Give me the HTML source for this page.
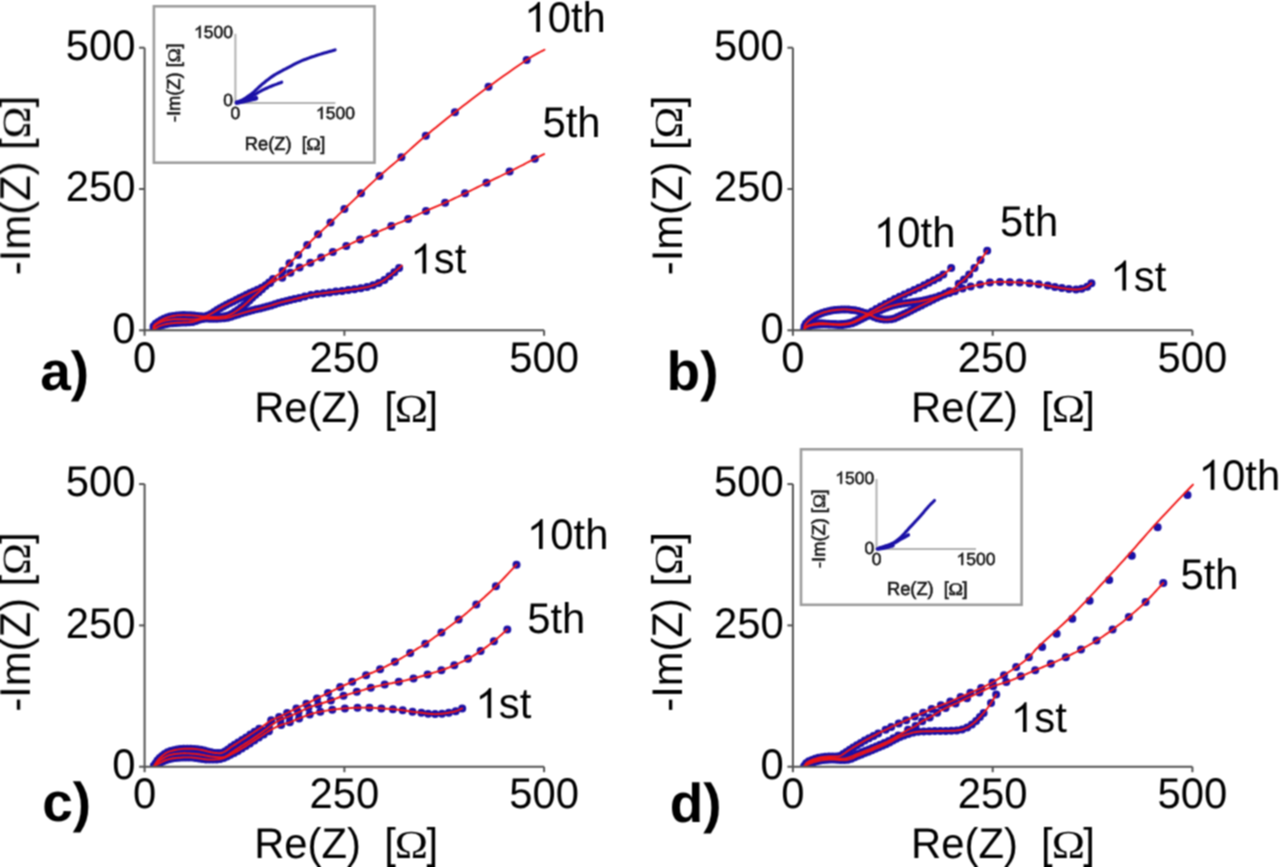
<!DOCTYPE html><html><head><meta charset="utf-8"><style>html,body{margin:0;padding:0;background:#fff;overflow:hidden}svg{display:block}text{font-family:"Liberation Sans",sans-serif;text-rendering:geometricPrecision}</style></head><body>
<svg width="1280" height="867" viewBox="0 0 1280 867">
<defs><filter id="soft" color-interpolation-filters="sRGB" filterUnits="userSpaceOnUse" x="0" y="0" width="1280" height="867"><feConvolveMatrix order="3" kernelMatrix="1 2 1 2 4 2 1 2 1" divisor="16.0" edgeMode="duplicate" preserveAlpha="false"/></filter></defs>
<rect width="1280" height="867" fill="#fff"/>
<g filter="url(#soft)">
<defs><clipPath id="cr1"><rect x="0" y="0" width="1280" height="330.3"/></clipPath><clipPath id="cr2"><rect x="0" y="440" width="1280" height="326.7"/></clipPath></defs>
<g clip-path="url(#cr1)">
<g fill="#1a10a6"><circle cx="153.5" cy="329.5" r="4.0"/><circle cx="153.6" cy="326.3" r="4.0"/><circle cx="155.7" cy="323.8" r="4.0"/><circle cx="158.3" cy="322.0" r="4.0"/><circle cx="161.1" cy="320.2" r="4.0"/><circle cx="164.0" cy="318.7" r="4.0"/><circle cx="167.1" cy="317.5" r="4.0"/><circle cx="170.2" cy="316.6" r="4.0"/><circle cx="173.5" cy="315.9" r="4.0"/><circle cx="176.8" cy="315.4" r="4.0"/><circle cx="180.2" cy="315.2" r="4.0"/><circle cx="183.6" cy="315.1" r="4.0"/><circle cx="187.0" cy="315.2" r="4.0"/><circle cx="190.5" cy="315.3" r="4.0"/><circle cx="193.9" cy="315.6" r="4.0"/><circle cx="197.4" cy="316.0" r="4.0"/><circle cx="200.9" cy="316.3" r="4.0"/><circle cx="204.4" cy="316.4" r="4.0"/><circle cx="207.8" cy="315.4" r="4.0"/><circle cx="211.0" cy="313.9" r="4.0"/><circle cx="214.1" cy="312.1" r="4.0"/><circle cx="217.1" cy="310.1" r="4.0"/><circle cx="220.1" cy="308.2" r="4.0"/><circle cx="223.3" cy="306.4" r="4.0"/><circle cx="226.5" cy="304.7" r="4.0"/><circle cx="229.8" cy="303.1" r="4.0"/><circle cx="233.1" cy="301.4" r="4.0"/><circle cx="236.5" cy="299.8" r="4.0"/><circle cx="239.8" cy="298.1" r="4.0"/><circle cx="243.2" cy="296.4" r="4.0"/><circle cx="246.5" cy="294.7" r="4.0"/><circle cx="250.0" cy="293.1" r="4.0"/><circle cx="253.6" cy="291.4" r="4.0"/><circle cx="257.5" cy="289.8" r="4.0"/><circle cx="261.6" cy="287.8" r="4.0"/><circle cx="265.7" cy="285.3" r="4.0"/><circle cx="270.1" cy="282.9" r="4.0"/><circle cx="282.2" cy="277.7" r="4.0"/><circle cx="290.4" cy="272.8" r="4.0"/><circle cx="299.6" cy="267.6" r="4.0"/><circle cx="310.3" cy="262.7" r="4.0"/><circle cx="321.2" cy="257.5" r="4.0"/><circle cx="332.8" cy="252.0" r="4.0"/><circle cx="346.3" cy="245.9" r="4.0"/><circle cx="360.1" cy="239.4" r="4.0"/><circle cx="374.8" cy="233.3" r="4.0"/><circle cx="391.3" cy="226.0" r="4.0"/><circle cx="408.2" cy="219.1" r="4.0"/><circle cx="426.0" cy="210.9" r="4.0"/><circle cx="445.1" cy="202.7" r="4.0"/><circle cx="465.0" cy="193.3" r="4.0"/><circle cx="486.5" cy="182.8" r="4.0"/><circle cx="509.6" cy="171.6" r="4.0"/><circle cx="534.8" cy="158.8" r="4.0"/><circle cx="154.0" cy="329.5" r="4.0"/><circle cx="154.5" cy="326.3" r="4.0"/><circle cx="156.8" cy="324.1" r="4.0"/><circle cx="159.6" cy="322.6" r="4.0"/><circle cx="162.7" cy="321.4" r="4.0"/><circle cx="165.8" cy="320.5" r="4.0"/><circle cx="169.1" cy="319.8" r="4.0"/><circle cx="172.4" cy="319.4" r="4.0"/><circle cx="175.7" cy="319.2" r="4.0"/><circle cx="179.1" cy="319.2" r="4.0"/><circle cx="182.5" cy="319.2" r="4.0"/><circle cx="185.9" cy="319.3" r="4.0"/><circle cx="189.4" cy="319.5" r="4.0"/><circle cx="192.8" cy="319.5" r="4.0"/><circle cx="196.3" cy="319.3" r="4.0"/><circle cx="199.7" cy="318.6" r="4.0"/><circle cx="203.1" cy="317.7" r="4.0"/><circle cx="206.6" cy="317.2" r="4.0"/><circle cx="210.1" cy="317.0" r="4.0"/><circle cx="213.7" cy="317.0" r="4.0"/><circle cx="217.3" cy="316.9" r="4.0"/><circle cx="220.9" cy="316.7" r="4.0"/><circle cx="224.6" cy="316.3" r="4.0"/><circle cx="228.1" cy="315.5" r="4.0"/><circle cx="231.5" cy="313.9" r="4.0"/><circle cx="234.7" cy="312.0" r="4.0"/><circle cx="237.8" cy="310.0" r="4.0"/><circle cx="240.8" cy="307.8" r="4.0"/><circle cx="243.8" cy="305.5" r="4.0"/><circle cx="246.6" cy="303.0" r="4.0"/><circle cx="249.4" cy="300.4" r="4.0"/><circle cx="252.2" cy="297.8" r="4.0"/><circle cx="255.3" cy="295.0" r="4.0"/><circle cx="258.6" cy="292.2" r="4.0"/><circle cx="262.0" cy="289.2" r="4.0"/><circle cx="265.5" cy="285.9" r="4.0"/><circle cx="269.1" cy="282.4" r="4.0"/><circle cx="273.0" cy="278.9" r="4.0"/><circle cx="282.6" cy="271.0" r="4.0"/><circle cx="289.5" cy="263.2" r="4.0"/><circle cx="298.2" cy="254.9" r="4.0"/><circle cx="307.2" cy="245.1" r="4.0"/><circle cx="318.1" cy="234.3" r="4.0"/><circle cx="330.5" cy="222.6" r="4.0"/><circle cx="344.4" cy="209.1" r="4.0"/><circle cx="361.0" cy="193.2" r="4.0"/><circle cx="379.5" cy="175.9" r="4.0"/><circle cx="401.4" cy="157.2" r="4.0"/><circle cx="425.8" cy="135.7" r="4.0"/><circle cx="454.9" cy="112.3" r="4.0"/><circle cx="488.5" cy="86.8" r="4.0"/><circle cx="526.7" cy="59.9" r="4.0"/><circle cx="154.0" cy="329.5" r="4.0"/><circle cx="156.6" cy="327.6" r="4.0"/><circle cx="159.5" cy="326.1" r="4.0"/><circle cx="162.6" cy="325.0" r="4.0"/><circle cx="165.8" cy="324.2" r="4.0"/><circle cx="169.0" cy="323.6" r="4.0"/><circle cx="172.3" cy="323.2" r="4.0"/><circle cx="175.6" cy="322.9" r="4.0"/><circle cx="179.0" cy="322.8" r="4.0"/><circle cx="182.4" cy="322.6" r="4.0"/><circle cx="185.8" cy="322.5" r="4.0"/><circle cx="189.2" cy="322.3" r="4.0"/><circle cx="192.6" cy="321.9" r="4.0"/><circle cx="195.9" cy="320.9" r="4.0"/><circle cx="199.2" cy="319.8" r="4.0"/><circle cx="202.6" cy="319.0" r="4.0"/><circle cx="206.1" cy="318.6" r="4.0"/><circle cx="209.7" cy="318.7" r="4.0"/><circle cx="213.2" cy="318.8" r="4.0"/><circle cx="216.8" cy="318.7" r="4.0"/><circle cx="220.4" cy="318.6" r="4.0"/><circle cx="224.0" cy="318.3" r="4.0"/><circle cx="227.6" cy="317.7" r="4.0"/><circle cx="231.1" cy="316.7" r="4.0"/><circle cx="234.6" cy="315.5" r="4.0"/><circle cx="238.1" cy="314.4" r="4.0"/><circle cx="241.7" cy="313.3" r="4.0"/><circle cx="245.3" cy="312.3" r="4.0"/><circle cx="248.9" cy="311.2" r="4.0"/><circle cx="252.5" cy="310.3" r="4.0"/><circle cx="256.2" cy="309.3" r="4.0"/><circle cx="260.0" cy="308.4" r="4.0"/><circle cx="263.7" cy="307.5" r="4.0"/><circle cx="267.4" cy="306.5" r="4.0"/><circle cx="271.2" cy="305.4" r="4.0"/><circle cx="274.9" cy="304.3" r="4.0"/><circle cx="278.6" cy="303.1" r="4.0"/><circle cx="282.4" cy="302.0" r="4.0"/><circle cx="286.3" cy="301.0" r="4.0"/><circle cx="290.2" cy="300.1" r="4.0"/><circle cx="294.5" cy="299.1" r="4.0"/><circle cx="299.3" cy="297.9" r="4.0"/><circle cx="304.7" cy="296.5" r="4.0"/><circle cx="310.9" cy="295.1" r="4.0"/><circle cx="317.1" cy="294.0" r="4.0"/><circle cx="323.3" cy="293.2" r="4.0"/><circle cx="329.6" cy="292.4" r="4.0"/><circle cx="335.8" cy="291.6" r="4.0"/><circle cx="342.1" cy="290.9" r="4.0"/><circle cx="348.3" cy="290.1" r="4.0"/><circle cx="354.5" cy="289.2" r="4.0"/><circle cx="360.8" cy="288.2" r="4.0"/><circle cx="367.0" cy="287.1" r="4.0"/><circle cx="373.0" cy="285.3" r="4.0"/><circle cx="378.8" cy="282.9" r="4.0"/><circle cx="384.4" cy="280.0" r="4.0"/><circle cx="389.4" cy="276.2" r="4.0"/><circle cx="394.3" cy="272.2" r="4.0"/><circle cx="399.1" cy="268.1" r="4.0"/><circle cx="804.5" cy="329.5" r="4.0"/><circle cx="805.7" cy="326.8" r="4.0"/><circle cx="808.7" cy="325.5" r="4.0"/><circle cx="811.8" cy="324.5" r="4.0"/><circle cx="815.0" cy="323.8" r="4.0"/><circle cx="818.2" cy="323.3" r="4.0"/><circle cx="821.5" cy="323.2" r="4.0"/><circle cx="824.8" cy="323.4" r="4.0"/><circle cx="828.2" cy="323.7" r="4.0"/><circle cx="831.5" cy="323.9" r="4.0"/><circle cx="834.9" cy="324.1" r="4.0"/><circle cx="838.3" cy="324.2" r="4.0"/><circle cx="841.7" cy="324.1" r="4.0"/><circle cx="845.1" cy="323.8" r="4.0"/><circle cx="848.5" cy="323.3" r="4.0"/><circle cx="851.8" cy="322.4" r="4.0"/><circle cx="855.0" cy="321.0" r="4.0"/><circle cx="858.1" cy="319.5" r="4.0"/><circle cx="861.2" cy="317.8" r="4.0"/><circle cx="864.6" cy="315.8" r="4.0"/><circle cx="868.1" cy="313.6" r="4.0"/><circle cx="872.0" cy="311.4" r="4.0"/><circle cx="876.2" cy="309.0" r="4.0"/><circle cx="880.7" cy="306.4" r="4.0"/><circle cx="885.3" cy="303.9" r="4.0"/><circle cx="890.0" cy="301.5" r="4.0"/><circle cx="894.7" cy="299.1" r="4.0"/><circle cx="899.5" cy="296.8" r="4.0"/><circle cx="904.3" cy="294.5" r="4.0"/><circle cx="909.2" cy="292.3" r="4.0"/><circle cx="914.1" cy="290.0" r="4.0"/><circle cx="919.0" cy="287.7" r="4.0"/><circle cx="924.0" cy="285.3" r="4.0"/><circle cx="928.8" cy="282.8" r="4.0"/><circle cx="933.7" cy="280.3" r="4.0"/><circle cx="938.6" cy="277.7" r="4.0"/><circle cx="943.3" cy="274.6" r="4.0"/><circle cx="951.2" cy="268.0" r="4.0"/><circle cx="804.5" cy="329.5" r="4.0"/><circle cx="804.6" cy="326.3" r="4.0"/><circle cx="806.0" cy="323.5" r="4.0"/><circle cx="808.3" cy="321.2" r="4.0"/><circle cx="810.7" cy="319.0" r="4.0"/><circle cx="813.4" cy="317.2" r="4.0"/><circle cx="816.2" cy="315.6" r="4.0"/><circle cx="819.1" cy="314.2" r="4.0"/><circle cx="822.2" cy="313.0" r="4.0"/><circle cx="825.3" cy="312.0" r="4.0"/><circle cx="828.5" cy="311.2" r="4.0"/><circle cx="831.7" cy="310.5" r="4.0"/><circle cx="835.0" cy="310.1" r="4.0"/><circle cx="838.3" cy="309.7" r="4.0"/><circle cx="841.6" cy="309.5" r="4.0"/><circle cx="844.9" cy="309.4" r="4.0"/><circle cx="848.3" cy="309.6" r="4.0"/><circle cx="851.6" cy="309.9" r="4.0"/><circle cx="854.9" cy="310.3" r="4.0"/><circle cx="858.3" cy="311.0" r="4.0"/><circle cx="861.5" cy="311.9" r="4.0"/><circle cx="864.7" cy="312.9" r="4.0"/><circle cx="867.9" cy="314.1" r="4.0"/><circle cx="871.1" cy="315.5" r="4.0"/><circle cx="874.1" cy="317.0" r="4.0"/><circle cx="877.3" cy="318.2" r="4.0"/><circle cx="880.7" cy="319.1" r="4.0"/><circle cx="884.1" cy="319.5" r="4.0"/><circle cx="887.5" cy="319.6" r="4.0"/><circle cx="891.0" cy="319.2" r="4.0"/><circle cx="894.4" cy="318.4" r="4.0"/><circle cx="897.6" cy="317.1" r="4.0"/><circle cx="900.8" cy="315.6" r="4.0"/><circle cx="904.1" cy="314.1" r="4.0"/><circle cx="907.4" cy="312.5" r="4.0"/><circle cx="910.8" cy="310.8" r="4.0"/><circle cx="914.2" cy="309.0" r="4.0"/><circle cx="917.7" cy="307.2" r="4.0"/><circle cx="921.4" cy="305.4" r="4.0"/><circle cx="925.1" cy="303.6" r="4.0"/><circle cx="929.0" cy="301.7" r="4.0"/><circle cx="932.9" cy="299.8" r="4.0"/><circle cx="936.9" cy="297.8" r="4.0"/><circle cx="941.0" cy="295.8" r="4.0"/><circle cx="945.2" cy="293.6" r="4.0"/><circle cx="949.5" cy="291.3" r="4.0"/><circle cx="958.7" cy="283.7" r="4.0"/><circle cx="964.0" cy="279.6" r="4.0"/><circle cx="969.2" cy="274.4" r="4.0"/><circle cx="974.5" cy="268.0" r="4.0"/><circle cx="980.5" cy="260.1" r="4.0"/><circle cx="987.2" cy="250.7" r="4.0"/><circle cx="804.5" cy="329.5" r="4.0"/><circle cx="806.6" cy="327.2" r="4.0"/><circle cx="809.6" cy="325.9" r="4.0"/><circle cx="812.7" cy="325.1" r="4.0"/><circle cx="815.9" cy="324.7" r="4.0"/><circle cx="819.2" cy="324.4" r="4.0"/><circle cx="822.4" cy="324.2" r="4.0"/><circle cx="825.7" cy="324.2" r="4.0"/><circle cx="829.0" cy="324.4" r="4.0"/><circle cx="832.3" cy="324.6" r="4.0"/><circle cx="835.6" cy="324.8" r="4.0"/><circle cx="838.9" cy="325.0" r="4.0"/><circle cx="842.2" cy="324.9" r="4.0"/><circle cx="845.5" cy="324.6" r="4.0"/><circle cx="848.8" cy="324.0" r="4.0"/><circle cx="852.1" cy="323.2" r="4.0"/><circle cx="855.2" cy="321.9" r="4.0"/><circle cx="858.3" cy="320.5" r="4.0"/><circle cx="861.3" cy="319.0" r="4.0"/><circle cx="864.3" cy="317.4" r="4.0"/><circle cx="867.4" cy="316.0" r="4.0"/><circle cx="870.5" cy="314.6" r="4.0"/><circle cx="873.6" cy="313.1" r="4.0"/><circle cx="876.8" cy="311.7" r="4.0"/><circle cx="880.0" cy="310.4" r="4.0"/><circle cx="883.1" cy="309.1" r="4.0"/><circle cx="886.4" cy="307.8" r="4.0"/><circle cx="889.6" cy="306.6" r="4.0"/><circle cx="893.0" cy="305.6" r="4.0"/><circle cx="896.4" cy="304.8" r="4.0"/><circle cx="899.8" cy="304.1" r="4.0"/><circle cx="903.3" cy="303.4" r="4.0"/><circle cx="906.7" cy="303.0" r="4.0"/><circle cx="910.3" cy="302.5" r="4.0"/><circle cx="913.8" cy="302.1" r="4.0"/><circle cx="917.3" cy="301.6" r="4.0"/><circle cx="920.8" cy="301.1" r="4.0"/><circle cx="924.3" cy="300.3" r="4.0"/><circle cx="927.8" cy="299.4" r="4.0"/><circle cx="931.4" cy="298.5" r="4.0"/><circle cx="935.3" cy="297.4" r="4.0"/><circle cx="939.5" cy="296.1" r="4.0"/><circle cx="944.2" cy="294.6" r="4.0"/><circle cx="949.3" cy="293.0" r="4.0"/><circle cx="954.9" cy="291.2" r="4.0"/><circle cx="962.5" cy="288.6" r="4.0"/><circle cx="970.7" cy="286.4" r="4.0"/><circle cx="980.1" cy="284.5" r="4.0"/><circle cx="989.9" cy="282.6" r="4.0"/><circle cx="1000.0" cy="281.9" r="4.0"/><circle cx="1009.8" cy="282.2" r="4.0"/><circle cx="1019.7" cy="282.5" r="4.0"/><circle cx="1029.5" cy="283.2" r="4.0"/><circle cx="1038.7" cy="284.2" r="4.0"/><circle cx="1047.8" cy="285.6" r="4.0"/><circle cx="1054.9" cy="287.0" r="4.0"/><circle cx="1061.9" cy="288.1" r="4.0"/><circle cx="1068.9" cy="289.1" r="4.0"/><circle cx="1076.0" cy="289.5" r="4.0"/><circle cx="1081.6" cy="288.8" r="4.0"/><circle cx="1087.2" cy="286.7" r="4.0"/><circle cx="1091.4" cy="283.2" r="4.0"/></g>
<g fill="none" stroke="#f01414" stroke-width="1.9" stroke-linejoin="round" stroke-linecap="round" stroke-opacity="1.0"><path d="M153.5,329.5 L153.5,329.2 L153.5,328.8 L153.5,328.3 L153.4,327.8 L153.5,327.2 L153.5,326.6 L153.7,326.0 L154.0,325.5 L154.4,325.0 L154.9,324.5 L155.5,324.0 L156.2,323.4 L156.9,322.9 L157.6,322.4 L158.3,322.0 L159.0,321.5 L159.7,321.1 L160.4,320.6 L161.1,320.2 L161.9,319.8 L162.6,319.4 L163.4,319.0 L164.2,318.6 L165.0,318.3 L165.8,318.0 L166.7,317.7 L167.5,317.4 L168.4,317.1 L169.3,316.9 L170.2,316.6 L171.1,316.4 L172.0,316.2 L172.9,316.0 L173.9,315.8 L174.8,315.7 L175.8,315.6 L176.8,315.4 L177.8,315.3 L178.9,315.3 L180.0,315.2 L181.2,315.2 L182.4,315.1 L183.7,315.1 L185.0,315.1 L186.3,315.2 L187.6,315.2 L188.8,315.3 L190.0,315.3 L191.1,315.4 L192.2,315.4 L193.2,315.5 L194.2,315.6 L195.2,315.7 L196.1,315.8 L197.1,315.9 L198.0,316.0 L198.9,316.1 L199.8,316.2 L200.7,316.3 L201.6,316.4 L202.4,316.4 L203.3,316.5 L204.1,316.4 L205.0,316.3 L205.9,316.1 L206.7,315.9 L207.5,315.6 L208.3,315.2 L209.1,314.8 L210.0,314.4 L211.0,313.9 L212.0,313.3 L213.1,312.7 L214.2,312.0 L215.4,311.2 L216.6,310.4 L217.8,309.6 L219.2,308.7 L220.7,307.8 L222.3,306.9 L224.1,305.9 L226.1,304.9 L228.2,303.8 L230.5,302.7 L232.7,301.7 L234.8,300.6 L236.9,299.6 L238.7,298.7 L240.3,297.9 L241.8,297.1 L243.2,296.4 L244.5,295.7 L245.8,295.1 L247.1,294.5 L248.4,293.8 L249.7,293.2 L251.1,292.6 L252.5,291.9 L253.9,291.3 L255.4,290.7 L256.8,290.1 L258.1,289.5 L259.4,288.9 L260.6,288.3 L261.7,287.7 L262.7,287.2 L263.6,286.6 L264.5,286.1 L265.4,285.5 L266.3,285.0 L267.1,284.5 L268.0,284.0 L268.9,283.5 L269.8,283.1 L270.6,282.6 L271.5,282.2 L272.4,281.7 L273.2,281.3 L274.1,280.9 L275.0,280.5 L275.9,280.1 L276.8,279.8 L277.6,279.5 L278.5,279.2 L279.4,278.9 L280.3,278.5 L281.3,278.1 L282.2,277.7 L283.2,277.2 L284.2,276.6 L285.2,276.0 L286.2,275.4 L287.2,274.8 L288.3,274.1 L289.3,273.4 L290.4,272.8 L291.5,272.2 L292.6,271.5 L293.7,270.9 L294.8,270.2 L296.0,269.5 L297.2,268.9 L298.4,268.2 L299.6,267.6 L300.9,267.0 L302.2,266.4 L303.5,265.8 L304.8,265.2 L306.2,264.5 L307.6,263.9 L308.9,263.3 L310.3,262.7 L311.6,262.1 L313.0,261.4 L314.3,260.8 L315.7,260.1 L317.1,259.5 L318.4,258.8 L319.8,258.2 L321.2,257.5 L322.6,256.8 L324.0,256.2 L325.4,255.5 L326.8,254.8 L328.3,254.1 L329.7,253.4 L331.3,252.7 L332.8,252.0 L334.4,251.3 L336.0,250.5 L337.7,249.8 L339.4,249.0 L341.1,248.2 L342.9,247.5 L344.6,246.7 L346.3,245.9 L348.0,245.1 L349.7,244.3 L351.4,243.5 L353.1,242.7 L354.8,241.8 L356.6,241.0 L358.3,240.2 L360.1,239.4 L361.9,238.6 L363.7,237.9 L365.5,237.1 L367.3,236.4 L369.1,235.7 L371.0,234.9 L372.9,234.1 L374.8,233.3 L376.8,232.4 L378.8,231.5 L380.8,230.6 L382.9,229.7 L385.0,228.8 L387.1,227.8 L389.2,226.9 L391.3,226.0 L393.4,225.1 L395.5,224.3 L397.6,223.4 L399.7,222.6 L401.8,221.8 L403.9,220.9 L406.0,220.0 L408.2,219.1 L410.4,218.1 L412.6,217.1 L414.8,216.1 L417.0,215.1 L419.2,214.0 L421.4,213.0 L423.7,211.9 L426.0,210.9 L428.3,209.9 L430.7,208.9 L433.0,207.9 L435.4,206.9 L437.8,205.9 L440.2,204.8 L442.7,203.8 L445.1,202.7 L447.5,201.6 L450.0,200.5 L452.4,199.3 L454.9,198.1 L457.4,197.0 L459.9,195.8 L462.4,194.5 L465.0,193.3 L467.6,192.0 L470.2,190.8 L472.9,189.5 L475.6,188.2 L478.2,186.8 L481.0,185.5 L483.7,184.2 L486.5,182.8 L489.3,181.4 L492.1,180.1 L495.0,178.7 L497.8,177.3 L500.7,176.0 L503.6,174.5 L506.6,173.1 L509.6,171.6 L512.8,170.0 L516.1,168.3 L519.6,166.5 L523.1,164.8 L526.4,163.0 L529.6,161.4 L532.4,160.0 L534.8,158.8 L536.8,157.7 L538.5,156.9 L539.9,156.2 L541.0,155.6 L542.0,155.1 L542.8,154.7 L543.5,154.4 L544.1,154.1"/><path d="M154.0,329.5 L154.0,329.2 L154.1,328.8 L154.1,328.3 L154.1,327.7 L154.2,327.1 L154.4,326.6 L154.6,326.0 L155.0,325.5 L155.5,325.0 L156.1,324.6 L156.8,324.1 L157.6,323.6 L158.5,323.2 L159.3,322.8 L160.2,322.4 L161.0,322.0 L161.8,321.7 L162.7,321.4 L163.5,321.1 L164.4,320.8 L165.3,320.6 L166.2,320.4 L167.1,320.2 L168.0,320.0 L168.9,319.8 L169.9,319.7 L170.9,319.6 L171.9,319.5 L172.9,319.4 L173.9,319.3 L174.9,319.2 L176.0,319.2 L177.1,319.2 L178.2,319.2 L179.3,319.2 L180.4,319.2 L181.6,319.2 L182.7,319.2 L183.9,319.3 L185.0,319.3 L186.1,319.3 L187.3,319.4 L188.5,319.4 L189.7,319.5 L190.8,319.5 L192.0,319.5 L193.0,319.5 L194.0,319.5 L194.9,319.4 L195.7,319.3 L196.5,319.2 L197.2,319.1 L198.0,318.9 L198.6,318.8 L199.3,318.6 L200.0,318.5 L200.7,318.4 L201.3,318.2 L201.9,318.0 L202.4,317.9 L203.0,317.7 L203.6,317.5 L204.3,317.4 L205.0,317.3 L205.8,317.2 L206.6,317.2 L207.4,317.1 L208.3,317.1 L209.2,317.1 L210.1,317.0 L211.1,317.0 L212.0,317.0 L213.0,317.0 L213.9,317.0 L214.9,317.0 L215.9,317.0 L217.0,317.0 L218.0,316.9 L219.0,316.9 L220.0,316.8 L221.0,316.7 L222.0,316.6 L223.0,316.5 L224.0,316.4 L225.0,316.3 L226.0,316.1 L227.0,315.8 L228.0,315.5 L229.0,315.1 L230.0,314.7 L231.0,314.2 L232.0,313.6 L233.0,313.1 L234.0,312.5 L235.0,311.8 L236.0,311.2 L237.0,310.5 L238.0,309.9 L239.1,309.1 L240.1,308.4 L241.1,307.6 L242.1,306.9 L243.2,306.0 L244.2,305.2 L245.2,304.3 L246.2,303.4 L247.3,302.4 L248.3,301.5 L249.3,300.5 L250.3,299.5 L251.4,298.5 L252.4,297.6 L253.4,296.7 L254.5,295.8 L255.5,294.9 L256.6,294.0 L257.6,293.1 L258.6,292.3 L259.6,291.4 L260.6,290.5 L261.6,289.6 L262.5,288.7 L263.4,287.9 L264.4,287.0 L265.3,286.1 L266.2,285.2 L267.1,284.4 L268.0,283.5 L268.9,282.6 L269.8,281.8 L270.7,280.9 L271.7,280.1 L272.6,279.2 L273.5,278.4 L274.4,277.6 L275.3,276.8 L276.2,276.0 L277.1,275.3 L278.1,274.6 L279.0,274.0 L279.9,273.3 L280.8,272.6 L281.7,271.8 L282.6,271.0 L283.5,270.1 L284.3,269.2 L285.1,268.2 L286.0,267.3 L286.8,266.2 L287.7,265.2 L288.6,264.2 L289.5,263.2 L290.5,262.2 L291.5,261.2 L292.6,260.2 L293.7,259.2 L294.8,258.1 L296.0,257.1 L297.1,256.0 L298.2,254.9 L299.3,253.8 L300.4,252.6 L301.5,251.4 L302.6,250.2 L303.7,248.9 L304.8,247.7 L306.0,246.4 L307.2,245.1 L308.5,243.8 L309.8,242.5 L311.1,241.2 L312.4,239.8 L313.8,238.5 L315.2,237.1 L316.7,235.7 L318.1,234.3 L319.6,232.9 L321.1,231.5 L322.6,230.1 L324.1,228.6 L325.7,227.2 L327.3,225.7 L328.9,224.2 L330.5,222.6 L332.1,221.0 L333.8,219.4 L335.5,217.8 L337.2,216.1 L338.9,214.4 L340.7,212.7 L342.5,210.9 L344.4,209.1 L346.3,207.2 L348.3,205.3 L350.3,203.4 L352.4,201.4 L354.5,199.4 L356.7,197.3 L358.8,195.3 L361.0,193.2 L363.2,191.1 L365.4,189.0 L367.6,186.9 L369.9,184.7 L372.2,182.6 L374.6,180.4 L377.0,178.1 L379.5,175.9 L382.1,173.6 L384.7,171.4 L387.4,169.1 L390.1,166.8 L392.9,164.5 L395.7,162.1 L398.5,159.7 L401.4,157.2 L404.3,154.7 L407.2,152.1 L410.2,149.4 L413.1,146.7 L416.2,144.0 L419.3,141.3 L422.5,138.5 L425.8,135.7 L429.2,132.9 L432.6,130.0 L436.2,127.2 L439.8,124.2 L443.5,121.3 L447.2,118.3 L451.0,115.3 L454.9,112.3 L458.9,109.2 L462.9,106.1 L467.0,103.0 L471.1,99.8 L475.4,96.6 L479.7,93.3 L484.0,90.1 L488.5,86.8 L493.2,83.4 L498.2,79.8 L503.4,76.1 L508.6,72.4 L513.7,68.8 L518.5,65.5 L522.9,62.5 L526.7,59.9 L530.0,57.8 L533.0,55.9 L535.7,54.4 L538.0,53.1 L540.0,52.0 L541.8,51.1 L543.3,50.4 L544.5,49.7"/><path d="M154.0,329.5 L154.3,329.3 L154.7,329.0 L155.1,328.7 L155.6,328.3 L156.2,327.9 L156.8,327.5 L157.4,327.1 L158.0,326.8 L158.6,326.5 L159.3,326.2 L160.0,325.9 L160.8,325.6 L161.5,325.3 L162.3,325.1 L163.1,324.8 L164.0,324.6 L164.9,324.4 L165.8,324.2 L166.8,324.0 L167.8,323.8 L168.8,323.6 L169.8,323.5 L170.9,323.3 L172.0,323.2 L173.2,323.1 L174.4,323.0 L175.6,322.9 L176.9,322.8 L178.2,322.8 L179.5,322.7 L180.7,322.7 L182.0,322.6 L183.3,322.5 L184.5,322.5 L185.8,322.5 L187.1,322.4 L188.4,322.4 L189.6,322.3 L190.8,322.2 L192.0,322.0 L193.1,321.8 L194.2,321.5 L195.2,321.2 L196.2,320.8 L197.2,320.5 L198.2,320.1 L199.1,319.8 L200.0,319.6 L200.8,319.4 L201.7,319.2 L202.4,319.1 L203.2,318.9 L203.9,318.8 L204.6,318.7 L205.3,318.7 L206.0,318.6 L206.7,318.6 L207.3,318.6 L207.9,318.6 L208.5,318.7 L209.2,318.7 L209.8,318.8 L210.6,318.8 L211.4,318.8 L212.3,318.8 L213.3,318.8 L214.4,318.8 L215.5,318.8 L216.7,318.8 L217.8,318.7 L218.9,318.7 L220.0,318.6 L221.0,318.5 L222.0,318.5 L222.9,318.4 L223.9,318.3 L224.9,318.2 L225.8,318.0 L226.9,317.8 L228.0,317.6 L229.2,317.3 L230.4,317.0 L231.6,316.6 L232.9,316.1 L234.2,315.7 L235.5,315.2 L236.9,314.8 L238.4,314.3 L239.9,313.8 L241.5,313.4 L243.2,312.9 L244.9,312.4 L246.7,311.9 L248.4,311.4 L250.2,310.9 L252.0,310.4 L253.8,309.9 L255.7,309.5 L257.5,309.0 L259.4,308.6 L261.3,308.1 L263.2,307.7 L265.1,307.2 L266.9,306.7 L268.7,306.2 L270.5,305.6 L272.2,305.1 L274.0,304.5 L275.7,304.0 L277.5,303.4 L279.2,302.9 L281.0,302.4 L282.8,301.9 L284.5,301.5 L286.3,301.0 L288.1,300.6 L289.9,300.2 L291.6,299.8 L293.4,299.3 L295.2,298.9 L297.0,298.5 L298.8,298.0 L300.7,297.5 L302.5,297.0 L304.3,296.6 L306.1,296.2 L307.8,295.8 L309.4,295.4 L310.9,295.1 L312.2,294.8 L313.5,294.6 L314.7,294.4 L315.9,294.2 L317.2,294.0 L318.5,293.8 L320.0,293.6 L321.6,293.4 L323.3,293.2 L325.0,292.9 L326.8,292.7 L328.6,292.5 L330.5,292.3 L332.4,292.0 L334.4,291.8 L336.4,291.5 L338.5,291.3 L340.6,291.0 L342.8,290.8 L345.0,290.5 L347.2,290.2 L349.4,289.9 L351.6,289.6 L353.8,289.3 L356.0,289.0 L358.2,288.6 L360.5,288.3 L362.7,287.9 L364.8,287.5 L366.9,287.1 L368.8,286.6 L370.6,286.1 L372.4,285.5 L374.1,284.9 L375.7,284.3 L377.3,283.6 L378.8,283.0 L380.2,282.3 L381.6,281.6 L382.9,280.9 L384.1,280.1 L385.2,279.4 L386.3,278.6 L387.3,277.8 L388.3,277.1 L389.3,276.3 L390.2,275.6 L391.1,274.9 L391.9,274.3 L392.7,273.6 L393.4,273.0 L394.2,272.4 L394.9,271.7 L395.6,271.1 L396.3,270.5 L397.1,269.9 L397.8,269.2 L398.6,268.5 L399.4,267.8 L400.2,267.1 L400.8,266.6 L401.4,266.1 L401.8,265.7"/><path d="M804.5,329.5 L804.5,329.3 L804.5,329.1 L804.5,328.8 L804.4,328.5 L804.5,328.2 L804.5,327.9 L804.7,327.6 L805.0,327.3 L805.4,327.0 L805.9,326.7 L806.5,326.4 L807.2,326.1 L807.9,325.8 L808.6,325.5 L809.3,325.2 L810.0,325.0 L810.7,324.8 L811.4,324.6 L812.2,324.4 L812.9,324.2 L813.7,324.0 L814.5,323.9 L815.2,323.7 L816.0,323.6 L816.7,323.5 L817.5,323.4 L818.2,323.3 L818.9,323.3 L819.6,323.2 L820.4,323.2 L821.2,323.2 L822.0,323.2 L822.9,323.2 L823.8,323.3 L824.8,323.4 L825.8,323.5 L826.9,323.5 L827.9,323.6 L829.0,323.7 L830.0,323.8 L831.1,323.9 L832.2,323.9 L833.3,324.0 L834.5,324.1 L835.6,324.1 L836.7,324.2 L837.8,324.2 L838.8,324.2 L839.7,324.2 L840.5,324.2 L841.3,324.1 L842.0,324.1 L842.8,324.0 L843.5,324.0 L844.2,323.9 L845.0,323.8 L845.8,323.7 L846.6,323.6 L847.3,323.5 L848.1,323.4 L848.9,323.2 L849.7,323.0 L850.5,322.8 L851.2,322.6 L852.0,322.3 L852.8,322.0 L853.6,321.7 L854.4,321.3 L855.2,321.0 L855.9,320.6 L856.7,320.2 L857.5,319.8 L858.3,319.4 L859.1,319.0 L859.8,318.6 L860.6,318.1 L861.4,317.7 L862.2,317.2 L863.0,316.8 L863.8,316.3 L864.5,315.8 L865.3,315.4 L866.1,314.9 L866.9,314.4 L867.7,313.9 L868.5,313.4 L869.2,313.0 L870.0,312.5 L870.8,312.1 L871.5,311.6 L872.3,311.2 L873.1,310.8 L873.8,310.3 L874.6,309.9 L875.3,309.6 L875.9,309.2 L876.5,308.9 L876.9,308.6 L877.3,308.4 L877.7,308.1 L878.1,307.9 L878.6,307.6 L879.2,307.2 L880.0,306.8 L881.0,306.3 L882.1,305.7 L883.3,305.0 L884.6,304.3 L885.9,303.6 L887.3,302.9 L888.7,302.2 L890.0,301.5 L891.3,300.8 L892.7,300.1 L894.1,299.4 L895.6,298.7 L897.0,298.0 L898.4,297.3 L899.8,296.6 L901.1,296.0 L902.4,295.4 L903.6,294.8 L904.8,294.3 L906.0,293.7 L907.2,293.2 L908.5,292.7 L909.7,292.1 L911.0,291.5 L912.4,290.9 L913.8,290.2 L915.2,289.5 L916.7,288.9 L918.1,288.2 L919.5,287.5 L920.9,286.8 L922.2,286.2 L923.4,285.6 L924.6,285.0 L925.7,284.5 L926.8,283.9 L927.8,283.4 L928.9,282.8 L929.9,282.3 L931.0,281.7 L932.1,281.1 L933.3,280.5 L934.4,279.9 L935.6,279.3 L936.7,278.7 L937.8,278.1 L938.9,277.5 L939.8,277.0 L940.6,276.5 L941.4,276.0 L942.0,275.6 L942.7,275.1 L943.3,274.7 L943.9,274.2 L944.5,273.7 L945.2,273.2 L946.0,272.6 L946.8,271.9 L947.7,271.1 L948.5,270.4 L949.4,269.6 L950.1,269.0 L950.7,268.4 L951.2,268.0"/><path d="M804.5,329.5 L804.5,329.2 L804.5,328.7 L804.5,328.1 L804.5,327.5 L804.5,326.9 L804.6,326.2 L804.8,325.6 L805.0,325.0 L805.3,324.4 L805.7,323.9 L806.2,323.3 L806.7,322.7 L807.3,322.1 L807.8,321.6 L808.4,321.0 L809.0,320.5 L809.6,320.0 L810.2,319.5 L810.8,319.0 L811.4,318.6 L812.0,318.1 L812.7,317.7 L813.3,317.2 L814.0,316.8 L814.7,316.4 L815.4,316.0 L816.2,315.6 L816.9,315.2 L817.7,314.8 L818.5,314.5 L819.2,314.1 L820.0,313.8 L820.7,313.5 L821.5,313.2 L822.2,313.0 L823.0,312.7 L823.7,312.5 L824.5,312.2 L825.2,312.0 L826.0,311.8 L826.8,311.6 L827.6,311.4 L828.4,311.2 L829.2,311.0 L830.1,310.8 L830.9,310.7 L831.7,310.5 L832.5,310.4 L833.3,310.3 L834.1,310.2 L834.9,310.1 L835.6,310.0 L836.4,309.9 L837.2,309.8 L838.0,309.8 L838.8,309.7 L839.5,309.6 L840.3,309.6 L841.1,309.5 L841.9,309.5 L842.7,309.4 L843.4,309.4 L844.2,309.4 L845.0,309.4 L845.8,309.4 L846.6,309.5 L847.3,309.5 L848.1,309.6 L848.9,309.6 L849.7,309.7 L850.5,309.8 L851.2,309.9 L852.0,310.0 L852.8,310.1 L853.6,310.2 L854.4,310.3 L855.2,310.4 L855.9,310.5 L856.7,310.6 L857.5,310.8 L858.3,311.0 L859.1,311.2 L859.8,311.4 L860.6,311.6 L861.4,311.8 L862.2,312.1 L863.0,312.3 L863.8,312.6 L864.5,312.9 L865.3,313.1 L866.1,313.4 L866.9,313.7 L867.7,314.0 L868.5,314.4 L869.2,314.7 L870.0,315.0 L870.8,315.3 L871.5,315.7 L872.3,316.1 L873.0,316.5 L873.8,316.8 L874.5,317.2 L875.3,317.5 L876.0,317.8 L876.8,318.1 L877.5,318.3 L878.2,318.5 L879.0,318.7 L879.8,318.9 L880.5,319.0 L881.2,319.2 L882.0,319.3 L882.8,319.4 L883.5,319.5 L884.2,319.6 L885.0,319.6 L885.8,319.6 L886.5,319.7 L887.2,319.6 L888.0,319.6 L888.8,319.5 L889.5,319.5 L890.2,319.4 L891.0,319.2 L891.8,319.1 L892.5,318.9 L893.2,318.7 L894.0,318.5 L894.7,318.3 L895.5,318.0 L896.2,317.7 L896.9,317.4 L897.6,317.1 L898.4,316.7 L899.1,316.4 L900.0,316.0 L900.9,315.6 L901.8,315.2 L902.8,314.7 L903.8,314.3 L904.8,313.8 L905.9,313.3 L907.0,312.8 L908.1,312.2 L909.2,311.6 L910.4,311.0 L911.6,310.4 L912.9,309.7 L914.1,309.0 L915.4,308.3 L916.7,307.7 L918.0,307.0 L919.3,306.3 L920.6,305.7 L922.0,305.1 L923.3,304.4 L924.7,303.8 L926.2,303.1 L927.7,302.4 L929.2,301.6 L930.9,300.8 L932.6,299.9 L934.4,299.0 L936.3,298.1 L938.2,297.2 L940.0,296.3 L941.7,295.4 L943.3,294.6 L944.8,293.8 L946.2,293.1 L947.6,292.4 L949.0,291.7 L950.2,291.0 L951.4,290.3 L952.5,289.7 L953.5,289.0 L954.4,288.3 L955.1,287.6 L955.8,286.9 L956.4,286.3 L957.0,285.6 L957.5,284.9 L958.1,284.3 L958.7,283.7 L959.4,283.1 L960.0,282.6 L960.7,282.1 L961.4,281.6 L962.0,281.2 L962.7,280.7 L963.3,280.2 L964.0,279.6 L964.7,279.0 L965.3,278.4 L966.0,277.8 L966.6,277.1 L967.2,276.5 L967.9,275.8 L968.5,275.1 L969.2,274.4 L969.9,273.7 L970.5,272.9 L971.1,272.2 L971.8,271.4 L972.5,270.6 L973.1,269.7 L973.8,268.9 L974.5,268.0 L975.2,267.1 L975.9,266.2 L976.7,265.2 L977.4,264.2 L978.2,263.2 L978.9,262.2 L979.7,261.2 L980.5,260.1 L981.3,258.9 L982.3,257.6 L983.3,256.3 L984.2,254.9 L985.1,253.6 L986.0,252.4 L986.7,251.4 L987.2,250.7"/><path d="M804.5,329.5 L804.6,329.3 L804.7,329.1 L804.8,328.9 L804.9,328.6 L805.1,328.3 L805.3,328.0 L805.6,327.8 L806.0,327.5 L806.5,327.2 L807.0,327.0 L807.6,326.7 L808.2,326.4 L808.9,326.2 L809.6,325.9 L810.3,325.7 L811.0,325.5 L811.7,325.3 L812.4,325.2 L813.1,325.1 L813.9,324.9 L814.6,324.9 L815.4,324.8 L816.2,324.7 L817.0,324.6 L817.8,324.5 L818.7,324.4 L819.5,324.4 L820.4,324.3 L821.3,324.3 L822.2,324.2 L823.1,324.2 L824.0,324.2 L825.0,324.2 L825.9,324.2 L826.9,324.3 L827.9,324.3 L829.0,324.4 L830.0,324.5 L831.0,324.5 L832.0,324.6 L833.0,324.7 L834.0,324.7 L835.1,324.8 L836.1,324.9 L837.1,324.9 L838.1,325.0 L839.1,325.0 L840.0,325.0 L840.8,325.0 L841.6,325.0 L842.4,324.9 L843.1,324.9 L843.8,324.8 L844.5,324.7 L845.3,324.6 L846.0,324.5 L846.8,324.4 L847.5,324.3 L848.2,324.1 L849.0,324.0 L849.8,323.8 L850.5,323.6 L851.2,323.4 L852.0,323.2 L852.8,322.9 L853.5,322.7 L854.2,322.3 L855.0,322.0 L855.8,321.7 L856.5,321.3 L857.2,321.0 L858.0,320.6 L858.8,320.2 L859.5,319.9 L860.2,319.5 L861.0,319.1 L861.8,318.7 L862.5,318.3 L863.2,318.0 L864.0,317.6 L864.7,317.2 L865.4,316.9 L866.1,316.6 L866.8,316.3 L867.6,315.9 L868.3,315.6 L869.1,315.2 L870.0,314.8 L870.9,314.4 L871.9,313.9 L872.9,313.5 L873.9,313.0 L875.0,312.5 L876.1,312.0 L877.3,311.5 L878.5,311.0 L879.8,310.5 L881.2,309.9 L882.6,309.3 L884.1,308.7 L885.6,308.1 L887.1,307.5 L888.6,307.0 L890.0,306.5 L891.4,306.1 L892.8,305.7 L894.2,305.3 L895.6,305.0 L897.0,304.6 L898.3,304.3 L899.7,304.1 L901.1,303.8 L902.5,303.6 L903.9,303.3 L905.2,303.1 L906.6,303.0 L908.0,302.8 L909.3,302.6 L910.7,302.5 L912.0,302.3 L913.3,302.1 L914.6,302.0 L915.9,301.8 L917.1,301.6 L918.4,301.5 L919.6,301.3 L920.9,301.0 L922.2,300.8 L923.5,300.5 L924.8,300.2 L926.1,299.9 L927.4,299.6 L928.8,299.2 L930.1,298.8 L931.4,298.5 L932.7,298.1 L934.0,297.7 L935.2,297.4 L936.5,297.0 L937.8,296.6 L939.0,296.2 L940.3,295.8 L941.6,295.4 L943.0,295.0 L944.4,294.6 L946.0,294.1 L947.6,293.6 L949.2,293.1 L950.8,292.6 L952.3,292.1 L953.7,291.6 L955.0,291.2 L956.1,290.8 L957.2,290.5 L958.1,290.1 L959.0,289.8 L959.8,289.5 L960.7,289.2 L961.6,288.9 L962.5,288.6 L963.5,288.3 L964.5,288.0 L965.5,287.7 L966.5,287.5 L967.5,287.2 L968.5,286.9 L969.6,286.7 L970.7,286.4 L971.8,286.1 L973.0,285.9 L974.1,285.7 L975.3,285.4 L976.5,285.2 L977.7,285.0 L978.9,284.7 L980.1,284.5 L981.3,284.3 L982.5,284.0 L983.7,283.7 L985.0,283.5 L986.2,283.2 L987.4,283.0 L988.7,282.8 L989.9,282.6 L991.2,282.4 L992.4,282.3 L993.7,282.2 L994.9,282.1 L996.2,282.0 L997.5,282.0 L998.7,281.9 L1000.0,281.9 L1001.2,281.9 L1002.5,281.9 L1003.7,281.9 L1004.9,282.0 L1006.1,282.0 L1007.4,282.1 L1008.6,282.2 L1009.8,282.2 L1011.0,282.2 L1012.3,282.3 L1013.5,282.3 L1014.7,282.3 L1016.0,282.4 L1017.2,282.4 L1018.5,282.4 L1019.7,282.5 L1020.9,282.6 L1022.2,282.6 L1023.4,282.7 L1024.6,282.8 L1025.9,282.9 L1027.1,283.0 L1028.3,283.1 L1029.5,283.2 L1030.7,283.3 L1031.8,283.4 L1033.0,283.5 L1034.1,283.7 L1035.3,283.8 L1036.4,283.9 L1037.6,284.1 L1038.7,284.2 L1039.9,284.4 L1041.0,284.5 L1042.2,284.7 L1043.4,284.9 L1044.5,285.1 L1045.7,285.2 L1046.8,285.4 L1047.8,285.6 L1048.8,285.8 L1049.7,286.0 L1050.6,286.1 L1051.5,286.3 L1052.3,286.5 L1053.2,286.7 L1054.0,286.8 L1054.9,287.0 L1055.8,287.2 L1056.7,287.3 L1057.5,287.4 L1058.4,287.6 L1059.3,287.7 L1060.2,287.8 L1061.0,288.0 L1061.9,288.1 L1062.8,288.2 L1063.6,288.4 L1064.5,288.5 L1065.4,288.6 L1066.3,288.8 L1067.1,288.9 L1068.0,289.0 L1068.9,289.1 L1069.8,289.2 L1070.7,289.3 L1071.6,289.3 L1072.5,289.4 L1073.4,289.5 L1074.3,289.5 L1075.2,289.5 L1076.0,289.5 L1076.8,289.5 L1077.5,289.4 L1078.2,289.4 L1078.9,289.3 L1079.6,289.2 L1080.2,289.1 L1080.9,289.0 L1081.6,288.8 L1082.3,288.6 L1083.0,288.4 L1083.8,288.2 L1084.5,287.9 L1085.2,287.7 L1085.9,287.4 L1086.6,287.0 L1087.2,286.7 L1087.8,286.3 L1088.4,285.8 L1089.1,285.3 L1089.7,284.8 L1090.2,284.3 L1090.7,283.9 L1091.1,283.5 L1091.4,283.2"/></g>
</g>
<g clip-path="url(#cr2)">
<g fill="#1a10a6"><circle cx="154.0" cy="766.0" r="4.0"/><circle cx="155.7" cy="763.2" r="4.0"/><circle cx="157.5" cy="760.5" r="4.0"/><circle cx="159.7" cy="758.1" r="4.0"/><circle cx="162.1" cy="756.0" r="4.0"/><circle cx="164.6" cy="753.9" r="4.0"/><circle cx="167.5" cy="752.3" r="4.0"/><circle cx="170.6" cy="751.1" r="4.0"/><circle cx="173.8" cy="750.3" r="4.0"/><circle cx="177.1" cy="749.6" r="4.0"/><circle cx="180.4" cy="749.1" r="4.0"/><circle cx="183.8" cy="748.8" r="4.0"/><circle cx="187.2" cy="748.7" r="4.0"/><circle cx="190.6" cy="748.7" r="4.0"/><circle cx="194.0" cy="748.9" r="4.0"/><circle cx="197.4" cy="749.3" r="4.0"/><circle cx="200.9" cy="749.8" r="4.0"/><circle cx="204.3" cy="750.5" r="4.0"/><circle cx="207.6" cy="751.4" r="4.0"/><circle cx="211.1" cy="752.2" r="4.0"/><circle cx="214.6" cy="752.9" r="4.0"/><circle cx="218.1" cy="753.1" r="4.0"/><circle cx="221.7" cy="752.9" r="4.0"/><circle cx="224.9" cy="751.5" r="4.0"/><circle cx="228.0" cy="749.4" r="4.0"/><circle cx="231.2" cy="747.0" r="4.0"/><circle cx="234.6" cy="744.8" r="4.0"/><circle cx="238.2" cy="742.4" r="4.0"/><circle cx="242.1" cy="740.0" r="4.0"/><circle cx="246.1" cy="737.4" r="4.0"/><circle cx="250.3" cy="734.6" r="4.0"/><circle cx="254.6" cy="731.8" r="4.0"/><circle cx="259.2" cy="728.7" r="4.0"/><circle cx="271.2" cy="720.3" r="4.0"/><circle cx="279.1" cy="717.0" r="4.0"/><circle cx="287.1" cy="713.0" r="4.0"/><circle cx="296.4" cy="708.4" r="4.0"/><circle cx="306.4" cy="703.7" r="4.0"/><circle cx="317.0" cy="698.4" r="4.0"/><circle cx="328.0" cy="693.1" r="4.0"/><circle cx="340.2" cy="687.1" r="4.0"/><circle cx="352.2" cy="681.8" r="4.0"/><circle cx="366.1" cy="675.2" r="4.0"/><circle cx="380.1" cy="669.2" r="4.0"/><circle cx="394.9" cy="661.8" r="4.0"/><circle cx="410.2" cy="652.9" r="4.0"/><circle cx="425.3" cy="643.7" r="4.0"/><circle cx="441.4" cy="632.4" r="4.0"/><circle cx="458.6" cy="619.6" r="4.0"/><circle cx="476.3" cy="604.5" r="4.0"/><circle cx="495.9" cy="586.3" r="4.0"/><circle cx="516.5" cy="564.7" r="4.0"/><circle cx="154.0" cy="766.0" r="4.0"/><circle cx="156.2" cy="763.7" r="4.0"/><circle cx="158.6" cy="761.5" r="4.0"/><circle cx="161.2" cy="759.5" r="4.0"/><circle cx="164.0" cy="757.7" r="4.0"/><circle cx="166.9" cy="756.2" r="4.0"/><circle cx="169.9" cy="755.0" r="4.0"/><circle cx="173.2" cy="754.3" r="4.0"/><circle cx="176.5" cy="753.8" r="4.0"/><circle cx="179.8" cy="753.5" r="4.0"/><circle cx="183.2" cy="753.4" r="4.0"/><circle cx="186.6" cy="753.4" r="4.0"/><circle cx="190.0" cy="753.5" r="4.0"/><circle cx="193.4" cy="753.7" r="4.0"/><circle cx="196.9" cy="754.1" r="4.0"/><circle cx="200.3" cy="754.5" r="4.0"/><circle cx="203.7" cy="755.2" r="4.0"/><circle cx="207.2" cy="755.9" r="4.0"/><circle cx="210.6" cy="756.4" r="4.0"/><circle cx="214.1" cy="756.8" r="4.0"/><circle cx="217.7" cy="757.2" r="4.0"/><circle cx="221.3" cy="757.4" r="4.0"/><circle cx="224.8" cy="756.7" r="4.0"/><circle cx="228.0" cy="754.9" r="4.0"/><circle cx="231.3" cy="752.7" r="4.0"/><circle cx="234.7" cy="750.4" r="4.0"/><circle cx="238.3" cy="748.0" r="4.0"/><circle cx="242.2" cy="745.5" r="4.0"/><circle cx="246.2" cy="742.9" r="4.0"/><circle cx="250.4" cy="740.2" r="4.0"/><circle cx="254.8" cy="737.3" r="4.0"/><circle cx="259.3" cy="734.1" r="4.0"/><circle cx="264.0" cy="730.7" r="4.0"/><circle cx="268.9" cy="727.1" r="4.0"/><circle cx="280.5" cy="719.7" r="4.0"/><circle cx="289.1" cy="716.4" r="4.0"/><circle cx="298.4" cy="712.4" r="4.0"/><circle cx="308.4" cy="707.7" r="4.0"/><circle cx="318.3" cy="704.4" r="4.0"/><circle cx="330.9" cy="700.4" r="4.0"/><circle cx="343.5" cy="695.8" r="4.0"/><circle cx="356.8" cy="691.8" r="4.0"/><circle cx="370.8" cy="687.8" r="4.0"/><circle cx="384.7" cy="684.5" r="4.0"/><circle cx="398.8" cy="681.8" r="4.0"/><circle cx="413.5" cy="678.4" r="4.0"/><circle cx="427.6" cy="674.5" r="4.0"/><circle cx="441.4" cy="670.2" r="4.0"/><circle cx="454.3" cy="665.3" r="4.0"/><circle cx="468.0" cy="658.8" r="4.0"/><circle cx="480.6" cy="651.0" r="4.0"/><circle cx="493.9" cy="641.2" r="4.0"/><circle cx="507.3" cy="629.4" r="4.0"/><circle cx="154.0" cy="766.0" r="4.0"/><circle cx="156.9" cy="764.6" r="4.0"/><circle cx="159.8" cy="763.1" r="4.0"/><circle cx="162.7" cy="761.6" r="4.0"/><circle cx="165.7" cy="760.2" r="4.0"/><circle cx="168.8" cy="759.2" r="4.0"/><circle cx="172.1" cy="758.5" r="4.0"/><circle cx="175.4" cy="758.0" r="4.0"/><circle cx="178.7" cy="757.7" r="4.0"/><circle cx="182.1" cy="757.5" r="4.0"/><circle cx="185.4" cy="757.4" r="4.0"/><circle cx="188.8" cy="757.4" r="4.0"/><circle cx="192.3" cy="757.5" r="4.0"/><circle cx="195.7" cy="757.9" r="4.0"/><circle cx="199.1" cy="758.4" r="4.0"/><circle cx="202.5" cy="758.9" r="4.0"/><circle cx="206.0" cy="759.4" r="4.0"/><circle cx="209.5" cy="759.6" r="4.0"/><circle cx="213.0" cy="759.6" r="4.0"/><circle cx="216.6" cy="759.4" r="4.0"/><circle cx="220.1" cy="759.0" r="4.0"/><circle cx="223.6" cy="758.1" r="4.0"/><circle cx="227.0" cy="756.6" r="4.0"/><circle cx="230.4" cy="754.8" r="4.0"/><circle cx="234.1" cy="752.9" r="4.0"/><circle cx="237.8" cy="750.9" r="4.0"/><circle cx="241.8" cy="748.6" r="4.0"/><circle cx="245.8" cy="746.1" r="4.0"/><circle cx="249.9" cy="743.4" r="4.0"/><circle cx="254.3" cy="740.5" r="4.0"/><circle cx="258.9" cy="737.5" r="4.0"/><circle cx="263.7" cy="734.4" r="4.0"/><circle cx="268.9" cy="731.2" r="4.0"/><circle cx="281.1" cy="725.0" r="4.0"/><circle cx="289.8" cy="722.3" r="4.0"/><circle cx="299.1" cy="718.4" r="4.0"/><circle cx="309.7" cy="714.4" r="4.0"/><circle cx="320.3" cy="711.7" r="4.0"/><circle cx="332.3" cy="709.7" r="4.0"/><circle cx="344.9" cy="708.4" r="4.0"/><circle cx="357.5" cy="707.7" r="4.0"/><circle cx="369.4" cy="707.7" r="4.0"/><circle cx="381.4" cy="708.4" r="4.0"/><circle cx="392.9" cy="709.2" r="4.0"/><circle cx="402.7" cy="710.2" r="4.0"/><circle cx="412.5" cy="711.8" r="4.0"/><circle cx="421.4" cy="712.7" r="4.0"/><circle cx="428.2" cy="713.7" r="4.0"/><circle cx="435.1" cy="714.1" r="4.0"/><circle cx="442.0" cy="713.7" r="4.0"/><circle cx="448.8" cy="712.7" r="4.0"/><circle cx="455.7" cy="711.2" r="4.0"/><circle cx="462.2" cy="708.4" r="4.0"/><circle cx="804.5" cy="766.0" r="4.0"/><circle cx="806.2" cy="763.2" r="4.0"/><circle cx="808.9" cy="761.3" r="4.0"/><circle cx="812.0" cy="759.9" r="4.0"/><circle cx="815.2" cy="758.7" r="4.0"/><circle cx="818.5" cy="757.8" r="4.0"/><circle cx="821.9" cy="757.2" r="4.0"/><circle cx="825.4" cy="756.7" r="4.0"/><circle cx="829.0" cy="756.5" r="4.0"/><circle cx="832.6" cy="756.5" r="4.0"/><circle cx="836.3" cy="756.5" r="4.0"/><circle cx="839.9" cy="756.0" r="4.0"/><circle cx="843.2" cy="754.1" r="4.0"/><circle cx="846.4" cy="751.9" r="4.0"/><circle cx="849.7" cy="749.7" r="4.0"/><circle cx="853.2" cy="747.5" r="4.0"/><circle cx="856.9" cy="745.3" r="4.0"/><circle cx="860.7" cy="743.0" r="4.0"/><circle cx="864.7" cy="740.6" r="4.0"/><circle cx="869.0" cy="738.3" r="4.0"/><circle cx="873.5" cy="735.9" r="4.0"/><circle cx="878.2" cy="733.4" r="4.0"/><circle cx="885.6" cy="729.8" r="4.0"/><circle cx="891.2" cy="727.0" r="4.0"/><circle cx="898.7" cy="723.6" r="4.0"/><circle cx="906.2" cy="720.3" r="4.0"/><circle cx="914.7" cy="716.5" r="4.0"/><circle cx="923.1" cy="712.8" r="4.0"/><circle cx="931.6" cy="709.0" r="4.0"/><circle cx="940.9" cy="705.3" r="4.0"/><circle cx="950.3" cy="701.6" r="4.0"/><circle cx="960.6" cy="696.9" r="4.0"/><circle cx="970.4" cy="692.7" r="4.0"/><circle cx="981.2" cy="688.0" r="4.0"/><circle cx="992.5" cy="682.5" r="4.0"/><circle cx="1004.0" cy="675.2" r="4.0"/><circle cx="1016.2" cy="667.1" r="4.0"/><circle cx="1028.8" cy="657.3" r="4.0"/><circle cx="1042.1" cy="646.9" r="4.0"/><circle cx="1056.6" cy="633.7" r="4.0"/><circle cx="1072.3" cy="618.7" r="4.0"/><circle cx="1089.6" cy="600.7" r="4.0"/><circle cx="1109.2" cy="580.0" r="4.0"/><circle cx="1131.8" cy="555.8" r="4.0"/><circle cx="1157.6" cy="527.2" r="4.0"/><circle cx="1187.5" cy="494.9" r="4.0"/><circle cx="804.5" cy="766.0" r="4.0"/><circle cx="806.9" cy="763.8" r="4.0"/><circle cx="809.7" cy="762.1" r="4.0"/><circle cx="812.7" cy="760.8" r="4.0"/><circle cx="815.8" cy="759.8" r="4.0"/><circle cx="819.0" cy="759.0" r="4.0"/><circle cx="822.3" cy="758.5" r="4.0"/><circle cx="825.6" cy="758.1" r="4.0"/><circle cx="828.9" cy="758.0" r="4.0"/><circle cx="832.3" cy="758.1" r="4.0"/><circle cx="835.7" cy="758.4" r="4.0"/><circle cx="839.1" cy="758.5" r="4.0"/><circle cx="842.6" cy="758.6" r="4.0"/><circle cx="846.0" cy="758.3" r="4.0"/><circle cx="849.3" cy="757.3" r="4.0"/><circle cx="852.6" cy="756.0" r="4.0"/><circle cx="855.8" cy="754.7" r="4.0"/><circle cx="859.1" cy="753.4" r="4.0"/><circle cx="862.4" cy="752.1" r="4.0"/><circle cx="865.7" cy="750.7" r="4.0"/><circle cx="869.1" cy="749.4" r="4.0"/><circle cx="872.5" cy="748.0" r="4.0"/><circle cx="876.2" cy="746.5" r="4.0"/><circle cx="880.1" cy="744.8" r="4.0"/><circle cx="884.3" cy="743.0" r="4.0"/><circle cx="888.7" cy="740.9" r="4.0"/><circle cx="893.4" cy="738.3" r="4.0"/><circle cx="898.3" cy="735.5" r="4.0"/><circle cx="908.1" cy="729.7" r="4.0"/><circle cx="915.6" cy="726.0" r="4.0"/><circle cx="922.2" cy="721.2" r="4.0"/><circle cx="929.7" cy="717.5" r="4.0"/><circle cx="937.2" cy="712.8" r="4.0"/><circle cx="945.6" cy="708.1" r="4.0"/><circle cx="955.6" cy="703.6" r="4.0"/><circle cx="967.0" cy="698.2" r="4.0"/><circle cx="979.4" cy="692.5" r="4.0"/><circle cx="993.1" cy="686.2" r="4.0"/><circle cx="1006.3" cy="682.1" r="4.0"/><circle cx="1020.8" cy="676.3" r="4.0"/><circle cx="1035.2" cy="670.2" r="4.0"/><circle cx="1050.8" cy="663.7" r="4.0"/><circle cx="1065.8" cy="657.2" r="4.0"/><circle cx="1081.0" cy="649.4" r="4.0"/><circle cx="1096.5" cy="640.6" r="4.0"/><circle cx="1112.6" cy="629.5" r="4.0"/><circle cx="1128.8" cy="616.9" r="4.0"/><circle cx="1145.6" cy="601.9" r="4.0"/><circle cx="1163.3" cy="583.0" r="4.0"/><circle cx="804.5" cy="766.0" r="4.0"/><circle cx="807.5" cy="764.6" r="4.0"/><circle cx="810.5" cy="763.4" r="4.0"/><circle cx="813.6" cy="762.2" r="4.0"/><circle cx="816.8" cy="761.3" r="4.0"/><circle cx="820.1" cy="760.6" r="4.0"/><circle cx="823.4" cy="760.1" r="4.0"/><circle cx="826.8" cy="759.7" r="4.0"/><circle cx="830.2" cy="759.5" r="4.0"/><circle cx="833.7" cy="759.5" r="4.0"/><circle cx="837.2" cy="759.8" r="4.0"/><circle cx="840.7" cy="760.0" r="4.0"/><circle cx="844.3" cy="760.1" r="4.0"/><circle cx="847.8" cy="759.7" r="4.0"/><circle cx="851.3" cy="758.7" r="4.0"/><circle cx="854.6" cy="757.3" r="4.0"/><circle cx="858.0" cy="755.8" r="4.0"/><circle cx="861.4" cy="754.4" r="4.0"/><circle cx="864.8" cy="753.1" r="4.0"/><circle cx="868.3" cy="751.7" r="4.0"/><circle cx="871.8" cy="750.3" r="4.0"/><circle cx="875.3" cy="748.8" r="4.0"/><circle cx="878.8" cy="747.3" r="4.0"/><circle cx="882.4" cy="745.8" r="4.0"/><circle cx="885.9" cy="744.2" r="4.0"/><circle cx="889.4" cy="742.5" r="4.0"/><circle cx="892.9" cy="740.6" r="4.0"/><circle cx="896.3" cy="738.7" r="4.0"/><circle cx="899.9" cy="736.9" r="4.0"/><circle cx="903.9" cy="735.4" r="4.0"/><circle cx="908.3" cy="733.9" r="4.0"/><circle cx="913.0" cy="732.6" r="4.0"/><circle cx="918.3" cy="731.7" r="4.0"/><circle cx="923.8" cy="731.4" r="4.0"/><circle cx="929.3" cy="731.2" r="4.0"/><circle cx="934.8" cy="731.1" r="4.0"/><circle cx="940.3" cy="731.0" r="4.0"/><circle cx="945.8" cy="730.9" r="4.0"/><circle cx="951.3" cy="730.8" r="4.0"/><circle cx="956.7" cy="730.4" r="4.0"/><circle cx="962.1" cy="729.4" r="4.0"/><circle cx="967.2" cy="727.4" r="4.0"/><circle cx="971.9" cy="724.5" r="4.0"/><circle cx="976.1" cy="721.0" r="4.0"/><circle cx="979.9" cy="717.0" r="4.0"/><circle cx="983.6" cy="712.9" r="4.0"/><circle cx="991.0" cy="703.0" r="4.0"/><circle cx="996.2" cy="694.5" r="4.0"/></g>
<g fill="none" stroke="#f01414" stroke-width="1.9" stroke-linejoin="round" stroke-linecap="round" stroke-opacity="1.0"><path d="M154.0,766.0 L154.3,765.6 L154.6,765.0 L155.0,764.3 L155.5,763.5 L156.0,762.7 L156.5,761.9 L157.0,761.2 L157.5,760.5 L158.0,759.9 L158.4,759.4 L158.9,758.9 L159.4,758.4 L159.9,757.9 L160.4,757.5 L160.9,757.0 L161.5,756.5 L162.1,756.0 L162.7,755.5 L163.3,754.9 L164.0,754.4 L164.7,753.9 L165.4,753.4 L166.2,752.9 L167.0,752.5 L167.9,752.1 L168.8,751.7 L169.8,751.4 L170.8,751.1 L171.8,750.8 L172.9,750.5 L173.9,750.2 L175.0,750.0 L176.1,749.8 L177.2,749.6 L178.3,749.4 L179.4,749.2 L180.6,749.1 L181.7,749.0 L182.9,748.9 L184.0,748.8 L185.1,748.7 L186.2,748.7 L187.4,748.7 L188.5,748.6 L189.6,748.7 L190.8,748.7 L191.9,748.7 L193.0,748.8 L194.1,748.9 L195.3,749.0 L196.4,749.1 L197.6,749.3 L198.7,749.4 L199.8,749.6 L200.9,749.8 L202.0,750.0 L203.1,750.2 L204.1,750.5 L205.2,750.7 L206.2,751.0 L207.2,751.3 L208.2,751.6 L209.1,751.8 L210.0,752.0 L210.8,752.2 L211.6,752.4 L212.4,752.5 L213.1,752.7 L213.8,752.8 L214.5,752.9 L215.2,753.0 L216.0,753.0 L216.8,753.0 L217.6,753.1 L218.5,753.2 L219.3,753.2 L220.2,753.2 L221.1,753.0 L222.0,752.8 L223.0,752.5 L224.0,752.0 L225.1,751.4 L226.2,750.7 L227.3,749.9 L228.5,749.0 L229.6,748.2 L230.8,747.3 L232.0,746.5 L233.2,745.7 L234.4,744.9 L235.7,744.1 L236.9,743.3 L238.2,742.5 L239.5,741.6 L240.7,740.8 L242.0,740.0 L243.2,739.2 L244.5,738.4 L245.8,737.6 L247.0,736.8 L248.2,736.0 L249.5,735.1 L250.8,734.3 L252.0,733.5 L253.3,732.7 L254.5,731.8 L255.8,731.0 L257.1,730.1 L258.3,729.3 L259.6,728.5 L260.8,727.6 L262.0,726.8 L263.2,726.0 L264.4,725.1 L265.6,724.2 L266.7,723.3 L267.9,722.5 L269.0,721.7 L270.1,721.0 L271.2,720.3 L272.2,719.7 L273.3,719.3 L274.3,718.9 L275.2,718.5 L276.2,718.1 L277.1,717.8 L278.1,717.4 L279.1,717.0 L280.1,716.5 L281.1,716.1 L282.0,715.6 L283.0,715.1 L284.0,714.6 L285.0,714.1 L286.0,713.5 L287.1,713.0 L288.2,712.5 L289.3,711.9 L290.5,711.3 L291.6,710.7 L292.8,710.2 L294.0,709.6 L295.2,709.0 L296.4,708.4 L297.6,707.8 L298.8,707.2 L300.1,706.7 L301.3,706.1 L302.6,705.5 L303.8,704.9 L305.1,704.3 L306.4,703.7 L307.7,703.1 L309.0,702.4 L310.3,701.8 L311.6,701.1 L313.0,700.4 L314.3,699.7 L315.7,699.1 L317.0,698.4 L318.3,697.7 L319.7,697.1 L321.0,696.4 L322.4,695.8 L323.8,695.1 L325.2,694.5 L326.6,693.8 L328.0,693.1 L329.5,692.4 L331.0,691.6 L332.5,690.9 L334.0,690.1 L335.6,689.3 L337.1,688.6 L338.7,687.8 L340.2,687.1 L341.7,686.4 L343.2,685.8 L344.6,685.1 L346.1,684.5 L347.6,683.9 L349.1,683.2 L350.6,682.5 L352.2,681.8 L353.8,681.0 L355.5,680.2 L357.3,679.4 L359.0,678.5 L360.8,677.7 L362.6,676.8 L364.3,676.0 L366.1,675.2 L367.8,674.4 L369.6,673.7 L371.3,673.0 L373.0,672.3 L374.8,671.5 L376.5,670.8 L378.3,670.0 L380.1,669.2 L381.9,668.4 L383.7,667.5 L385.6,666.6 L387.4,665.7 L389.3,664.7 L391.1,663.8 L393.0,662.8 L394.9,661.8 L396.8,660.8 L398.7,659.7 L400.6,658.6 L402.5,657.5 L404.5,656.3 L406.4,655.2 L408.3,654.0 L410.2,652.9 L412.1,651.8 L414.0,650.7 L415.8,649.6 L417.7,648.4 L419.6,647.3 L421.5,646.2 L423.4,645.0 L425.3,643.7 L427.3,642.4 L429.2,641.1 L431.2,639.7 L433.2,638.3 L435.2,636.8 L437.3,635.4 L439.3,633.9 L441.4,632.4 L443.5,630.9 L445.6,629.4 L447.7,627.8 L449.9,626.2 L452.1,624.6 L454.2,623.0 L456.4,621.3 L458.6,619.6 L460.8,617.8 L462.9,616.1 L465.1,614.2 L467.3,612.4 L469.5,610.5 L471.7,608.5 L474.0,606.6 L476.3,604.5 L478.7,602.4 L481.0,600.2 L483.5,598.1 L485.9,595.8 L488.4,593.5 L490.9,591.2 L493.4,588.8 L495.9,586.3 L498.6,583.6 L501.5,580.6 L504.5,577.5 L507.4,574.4 L510.2,571.4 L512.8,568.7 L514.9,566.4 L516.5,564.7"/><path d="M154.0,766.0 L154.3,765.7 L154.7,765.3 L155.2,764.8 L155.7,764.2 L156.3,763.7 L156.8,763.1 L157.4,762.5 L158.0,762.0 L158.6,761.5 L159.1,761.0 L159.7,760.6 L160.3,760.1 L160.9,759.6 L161.6,759.2 L162.3,758.7 L163.0,758.3 L163.8,757.9 L164.5,757.4 L165.3,757.0 L166.2,756.5 L167.1,756.1 L168.0,755.7 L169.0,755.3 L170.0,755.0 L171.1,754.7 L172.3,754.5 L173.5,754.2 L174.8,754.0 L176.1,753.9 L177.4,753.7 L178.7,753.6 L180.0,753.5 L181.2,753.4 L182.5,753.4 L183.8,753.3 L185.0,753.3 L186.2,753.4 L187.5,753.4 L188.8,753.4 L190.0,753.5 L191.3,753.6 L192.5,753.7 L193.8,753.8 L195.1,753.9 L196.4,754.0 L197.6,754.2 L198.8,754.3 L200.0,754.5 L201.1,754.7 L202.1,754.9 L203.1,755.0 L204.1,755.2 L205.1,755.5 L206.0,755.6 L207.0,755.8 L208.0,756.0 L209.0,756.2 L210.0,756.3 L211.0,756.5 L212.0,756.6 L213.0,756.7 L214.0,756.8 L215.0,756.9 L216.0,757.0 L217.0,757.1 L218.0,757.2 L219.0,757.3 L219.9,757.4 L220.9,757.4 L221.9,757.4 L223.0,757.3 L224.0,757.0 L225.1,756.6 L226.2,756.0 L227.3,755.4 L228.4,754.7 L229.5,753.9 L230.7,753.1 L231.8,752.3 L233.0,751.5 L234.2,750.7 L235.4,749.9 L236.7,749.1 L237.9,748.3 L239.2,747.5 L240.5,746.6 L241.7,745.8 L243.0,745.0 L244.2,744.2 L245.5,743.4 L246.8,742.6 L248.0,741.8 L249.2,741.0 L250.5,740.2 L251.8,739.3 L253.0,738.5 L254.3,737.6 L255.5,736.8 L256.8,735.9 L258.1,735.0 L259.3,734.1 L260.6,733.2 L261.8,732.4 L263.0,731.5 L264.2,730.6 L265.3,729.8 L266.5,728.9 L267.6,728.0 L268.7,727.2 L269.8,726.4 L270.9,725.6 L272.0,724.8 L273.1,724.1 L274.2,723.4 L275.2,722.7 L276.3,722.0 L277.3,721.4 L278.4,720.8 L279.4,720.2 L280.5,719.7 L281.6,719.2 L282.6,718.8 L283.7,718.4 L284.8,718.0 L285.8,717.6 L286.9,717.2 L288.0,716.8 L289.1,716.4 L290.2,715.9 L291.4,715.5 L292.5,715.0 L293.7,714.5 L294.8,714.0 L296.0,713.5 L297.2,712.9 L298.4,712.4 L299.6,711.8 L300.9,711.2 L302.1,710.6 L303.4,710.0 L304.6,709.4 L305.9,708.8 L307.1,708.2 L308.4,707.7 L309.6,707.2 L310.8,706.8 L312.0,706.4 L313.2,706.0 L314.4,705.6 L315.6,705.2 L316.9,704.8 L318.3,704.4 L319.7,703.9 L321.3,703.5 L322.8,703.0 L324.4,702.5 L326.1,702.0 L327.7,701.5 L329.3,700.9 L330.9,700.4 L332.5,699.8 L334.0,699.3 L335.6,698.7 L337.2,698.1 L338.7,697.5 L340.3,696.9 L341.9,696.4 L343.5,695.8 L345.1,695.3 L346.8,694.8 L348.4,694.3 L350.1,693.8 L351.7,693.3 L353.4,692.8 L355.1,692.3 L356.8,691.8 L358.5,691.3 L360.3,690.8 L362.0,690.3 L363.8,689.8 L365.5,689.2 L367.3,688.8 L369.1,688.3 L370.8,687.8 L372.5,687.3 L374.3,686.9 L376.0,686.5 L377.7,686.1 L379.5,685.7 L381.2,685.3 L383.0,684.9 L384.7,684.5 L386.4,684.1 L388.2,683.8 L389.9,683.5 L391.7,683.2 L393.5,682.8 L395.2,682.5 L397.0,682.2 L398.8,681.8 L400.6,681.4 L402.4,681.0 L404.3,680.6 L406.2,680.2 L408.0,679.7 L409.9,679.3 L411.7,678.9 L413.5,678.4 L415.3,677.9 L417.1,677.5 L418.8,677.0 L420.6,676.5 L422.4,676.0 L424.1,675.5 L425.9,675.0 L427.6,674.5 L429.3,674.0 L431.1,673.5 L432.8,672.9 L434.6,672.4 L436.3,671.9 L438.0,671.3 L439.7,670.8 L441.4,670.2 L443.1,669.6 L444.7,669.1 L446.3,668.5 L447.9,667.9 L449.4,667.3 L451.0,666.7 L452.7,666.0 L454.3,665.3 L456.0,664.6 L457.7,663.8 L459.4,663.0 L461.2,662.2 L462.9,661.4 L464.6,660.6 L466.3,659.7 L468.0,658.8 L469.6,657.9 L471.2,657.0 L472.8,656.1 L474.3,655.1 L475.9,654.1 L477.4,653.1 L479.0,652.1 L480.6,651.0 L482.2,649.9 L483.9,648.7 L485.5,647.6 L487.2,646.4 L488.9,645.1 L490.6,643.8 L492.2,642.5 L493.9,641.2 L495.7,639.7 L497.6,638.1 L499.5,636.4 L501.4,634.7 L503.3,633.0 L504.9,631.6 L506.3,630.3 L507.3,629.4"/><path d="M154.0,766.0 L154.4,765.8 L154.9,765.6 L155.5,765.3 L156.1,764.9 L156.8,764.6 L157.6,764.2 L158.3,763.9 L159.0,763.5 L159.7,763.1 L160.4,762.8 L161.1,762.4 L161.9,762.0 L162.6,761.6 L163.4,761.2 L164.2,760.8 L165.0,760.5 L165.8,760.2 L166.6,759.9 L167.4,759.6 L168.2,759.4 L169.1,759.1 L170.0,758.9 L171.0,758.7 L172.0,758.5 L173.1,758.3 L174.3,758.2 L175.5,758.0 L176.8,757.9 L178.1,757.8 L179.4,757.7 L180.7,757.6 L182.0,757.5 L183.3,757.4 L184.5,757.4 L185.8,757.4 L187.1,757.4 L188.4,757.4 L189.6,757.4 L190.8,757.4 L192.0,757.5 L193.1,757.6 L194.2,757.7 L195.2,757.8 L196.2,757.9 L197.2,758.1 L198.1,758.2 L199.1,758.4 L200.0,758.5 L200.9,758.6 L201.8,758.8 L202.7,758.9 L203.5,759.1 L204.3,759.2 L205.2,759.3 L206.1,759.4 L207.0,759.5 L208.0,759.6 L208.9,759.6 L209.9,759.6 L210.9,759.6 L212.0,759.6 L213.0,759.6 L214.0,759.6 L215.0,759.5 L216.0,759.4 L217.0,759.4 L218.0,759.3 L218.9,759.2 L219.9,759.0 L220.9,758.8 L222.0,758.6 L223.0,758.3 L224.1,757.9 L225.2,757.5 L226.3,757.0 L227.4,756.4 L228.5,755.8 L229.7,755.2 L230.8,754.6 L232.0,754.0 L233.2,753.4 L234.4,752.7 L235.7,752.1 L236.9,751.4 L238.2,750.7 L239.5,750.0 L240.7,749.2 L242.0,748.5 L243.2,747.7 L244.5,746.9 L245.8,746.1 L247.0,745.3 L248.2,744.5 L249.5,743.6 L250.8,742.8 L252.0,742.0 L253.2,741.2 L254.5,740.4 L255.8,739.6 L257.0,738.7 L258.2,737.9 L259.5,737.1 L260.8,736.3 L262.0,735.5 L263.3,734.7 L264.5,733.9 L265.8,733.0 L267.1,732.2 L268.3,731.4 L269.6,730.6 L270.8,729.9 L272.0,729.2 L273.2,728.6 L274.3,728.0 L275.5,727.4 L276.6,726.9 L277.8,726.4 L278.9,725.9 L280.0,725.4 L281.1,725.0 L282.2,724.6 L283.3,724.2 L284.4,723.9 L285.4,723.6 L286.5,723.3 L287.6,723.0 L288.7,722.7 L289.8,722.3 L290.9,721.9 L292.1,721.4 L293.2,720.9 L294.3,720.4 L295.5,719.9 L296.7,719.4 L297.9,718.9 L299.1,718.4 L300.4,717.9 L301.7,717.4 L303.0,716.9 L304.3,716.3 L305.7,715.8 L307.0,715.3 L308.4,714.8 L309.7,714.4 L311.0,714.0 L312.3,713.6 L313.6,713.3 L314.9,712.9 L316.2,712.6 L317.6,712.3 L318.9,712.0 L320.3,711.7 L321.7,711.4 L323.2,711.1 L324.7,710.9 L326.2,710.6 L327.7,710.4 L329.2,710.1 L330.8,709.9 L332.3,709.7 L333.8,709.5 L335.4,709.3 L337.0,709.1 L338.6,709.0 L340.1,708.8 L341.7,708.7 L343.3,708.5 L344.9,708.4 L346.5,708.3 L348.1,708.2 L349.7,708.1 L351.2,708.0 L352.8,707.9 L354.4,707.8 L356.0,707.7 L357.5,707.7 L359.0,707.7 L360.5,707.6 L362.0,707.6 L363.5,707.6 L365.0,707.6 L366.4,707.6 L367.9,707.7 L369.4,707.7 L370.9,707.8 L372.4,707.8 L373.9,707.9 L375.4,708.0 L376.9,708.1 L378.4,708.2 L379.9,708.3 L381.4,708.4 L382.9,708.5 L384.4,708.6 L385.8,708.7 L387.3,708.8 L388.7,708.9 L390.2,709.0 L391.5,709.1 L392.9,709.2 L394.2,709.3 L395.5,709.4 L396.7,709.5 L397.9,709.7 L399.1,709.8 L400.3,709.9 L401.5,710.0 L402.7,710.2 L403.9,710.4 L405.2,710.6 L406.4,710.8 L407.7,711.0 L408.9,711.2 L410.1,711.4 L411.3,711.6 L412.5,711.8 L413.7,711.9 L414.8,712.1 L416.0,712.2 L417.1,712.3 L418.3,712.4 L419.3,712.5 L420.4,712.6 L421.4,712.7 L422.3,712.8 L423.2,713.0 L424.1,713.1 L424.9,713.2 L425.7,713.4 L426.5,713.5 L427.4,713.6 L428.2,713.7 L429.1,713.8 L429.9,713.9 L430.8,713.9 L431.6,714.0 L432.5,714.0 L433.4,714.1 L434.2,714.1 L435.1,714.1 L436.0,714.1 L436.8,714.1 L437.7,714.0 L438.6,714.0 L439.4,713.9 L440.3,713.9 L441.1,713.8 L442.0,713.7 L442.9,713.6 L443.7,713.5 L444.6,713.4 L445.4,713.3 L446.2,713.1 L447.1,713.0 L447.9,712.9 L448.8,712.7 L449.7,712.5 L450.5,712.4 L451.4,712.2 L452.3,712.1 L453.1,711.9 L454.0,711.7 L454.9,711.5 L455.7,711.2 L456.6,710.9 L457.5,710.5 L458.5,710.1 L459.4,709.7 L460.3,709.3 L461.0,708.9 L461.7,708.6 L462.2,708.4"/><path d="M804.5,766.0 L804.7,765.7 L804.9,765.4 L805.1,764.9 L805.4,764.4 L805.7,763.9 L806.1,763.4 L806.5,762.9 L807.0,762.5 L807.6,762.1 L808.2,761.7 L808.9,761.3 L809.7,760.9 L810.5,760.5 L811.3,760.2 L812.2,759.8 L813.0,759.5 L813.8,759.2 L814.7,758.9 L815.5,758.6 L816.4,758.4 L817.3,758.1 L818.2,757.9 L819.1,757.7 L820.0,757.5 L821.0,757.3 L821.9,757.2 L822.9,757.0 L823.9,756.9 L825.0,756.8 L826.0,756.7 L827.0,756.6 L828.0,756.5 L829.0,756.5 L830.1,756.5 L831.1,756.5 L832.2,756.5 L833.2,756.5 L834.2,756.5 L835.1,756.5 L836.0,756.5 L836.7,756.5 L837.4,756.4 L837.9,756.4 L838.4,756.4 L839.0,756.3 L839.5,756.1 L840.2,755.9 L841.0,755.5 L841.9,755.0 L842.8,754.4 L843.8,753.7 L844.9,753.0 L846.0,752.2 L847.2,751.3 L848.6,750.4 L850.0,749.5 L851.6,748.5 L853.3,747.4 L855.2,746.3 L857.1,745.1 L859.1,743.9 L861.1,742.8 L863.1,741.6 L865.0,740.5 L866.9,739.4 L869.0,738.3 L871.0,737.2 L873.1,736.1 L875.1,735.1 L876.9,734.1 L878.6,733.2 L880.0,732.5 L881.1,731.9 L882.1,731.5 L882.8,731.1 L883.4,730.8 L883.9,730.6 L884.4,730.4 L885.0,730.1 L885.6,729.8 L886.3,729.5 L887.0,729.1 L887.6,728.8 L888.3,728.4 L889.0,728.1 L889.7,727.7 L890.4,727.4 L891.2,727.0 L892.0,726.6 L892.9,726.2 L893.9,725.8 L894.8,725.3 L895.8,724.9 L896.8,724.5 L897.7,724.0 L898.7,723.6 L899.6,723.2 L900.6,722.8 L901.5,722.4 L902.4,722.0 L903.3,721.6 L904.3,721.2 L905.2,720.7 L906.2,720.3 L907.2,719.8 L908.3,719.4 L909.3,718.9 L910.4,718.4 L911.5,717.9 L912.6,717.5 L913.6,717.0 L914.7,716.5 L915.8,716.0 L916.8,715.6 L917.9,715.1 L918.9,714.6 L919.9,714.2 L921.0,713.7 L922.0,713.3 L923.1,712.8 L924.2,712.3 L925.2,711.9 L926.2,711.4 L927.3,710.9 L928.3,710.4 L929.4,709.9 L930.5,709.5 L931.6,709.0 L932.7,708.5 L933.9,708.1 L935.0,707.6 L936.2,707.1 L937.4,706.7 L938.5,706.2 L939.7,705.8 L940.9,705.3 L942.1,704.8 L943.2,704.4 L944.4,704.0 L945.5,703.5 L946.7,703.1 L947.9,702.6 L949.1,702.1 L950.3,701.6 L951.5,701.1 L952.8,700.5 L954.1,699.9 L955.4,699.3 L956.7,698.7 L958.0,698.1 L959.3,697.5 L960.6,696.9 L961.8,696.4 L963.1,695.8 L964.3,695.3 L965.5,694.8 L966.7,694.3 L967.9,693.8 L969.1,693.2 L970.4,692.7 L971.7,692.1 L973.0,691.6 L974.4,691.0 L975.7,690.4 L977.1,689.8 L978.4,689.2 L979.8,688.6 L981.2,688.0 L982.6,687.4 L984.0,686.7 L985.4,686.1 L986.8,685.4 L988.2,684.7 L989.6,684.0 L991.1,683.3 L992.5,682.5 L993.9,681.7 L995.3,680.8 L996.8,679.9 L998.2,679.0 L999.6,678.1 L1001.1,677.1 L1002.5,676.2 L1004.0,675.2 L1005.5,674.2 L1007.0,673.3 L1008.5,672.3 L1010.0,671.3 L1011.6,670.3 L1013.1,669.3 L1014.7,668.2 L1016.2,667.1 L1017.8,666.0 L1019.4,664.8 L1021.0,663.7 L1022.6,662.4 L1024.2,661.2 L1025.7,660.0 L1027.3,658.6 L1028.8,657.3 L1030.1,656.0 L1031.2,654.9 L1032.2,653.7 L1033.2,652.5 L1034.3,651.1 L1035.7,649.5 L1037.6,647.6 L1040.0,645.2 L1043.0,642.4 L1046.5,639.2 L1050.4,635.7 L1054.5,631.9 L1058.9,627.9 L1063.4,623.8 L1067.9,619.5 L1072.3,615.2 L1076.8,610.6 L1081.5,605.7 L1086.4,600.6 L1091.3,595.3 L1096.2,590.1 L1100.8,585.0 L1105.2,580.3 L1109.2,576.0 L1112.7,572.2 L1115.9,568.8 L1118.7,565.6 L1121.4,562.7 L1124.0,559.8 L1126.6,556.9 L1129.3,553.9 L1132.2,550.7 L1135.2,547.3 L1138.1,543.9 L1141.1,540.5 L1144.1,537.1 L1147.2,533.5 L1150.5,529.8 L1153.9,525.9 L1157.6,521.9 L1161.8,517.4 L1166.6,512.3 L1171.7,506.9 L1176.9,501.4 L1181.9,496.2 L1186.4,491.5 L1190.2,487.5 L1193.0,484.6"/><path d="M804.5,766.0 L804.7,765.8 L805.0,765.5 L805.4,765.1 L805.8,764.7 L806.3,764.3 L806.8,763.8 L807.4,763.4 L808.0,763.0 L808.7,762.6 L809.5,762.2 L810.4,761.8 L811.3,761.4 L812.2,761.0 L813.2,760.6 L814.1,760.3 L815.0,760.0 L815.9,759.7 L816.7,759.5 L817.6,759.3 L818.4,759.1 L819.3,758.9 L820.2,758.8 L821.1,758.6 L822.0,758.5 L823.0,758.4 L823.9,758.3 L824.9,758.2 L825.9,758.1 L827.0,758.1 L828.0,758.0 L829.0,758.0 L830.0,758.0 L831.0,758.0 L832.0,758.1 L833.0,758.1 L834.1,758.2 L835.1,758.3 L836.1,758.4 L837.0,758.5 L838.0,758.5 L838.9,758.5 L839.9,758.6 L840.8,758.6 L841.7,758.6 L842.6,758.6 L843.4,758.6 L844.2,758.6 L845.0,758.5 L845.7,758.4 L846.3,758.3 L846.9,758.1 L847.5,757.9 L848.0,757.7 L848.6,757.5 L849.3,757.3 L850.0,757.0 L850.8,756.7 L851.5,756.4 L852.3,756.1 L853.1,755.8 L854.0,755.4 L855.0,755.0 L856.2,754.5 L857.5,754.0 L859.0,753.4 L860.7,752.7 L862.6,752.0 L864.5,751.2 L866.5,750.4 L868.6,749.6 L870.6,748.8 L872.5,748.0 L874.4,747.2 L876.3,746.4 L878.2,745.6 L880.2,744.8 L882.1,744.0 L883.9,743.2 L885.7,742.3 L887.5,741.5 L889.2,740.6 L890.9,739.7 L892.6,738.8 L894.2,737.9 L895.7,737.0 L897.2,736.1 L898.7,735.3 L900.0,734.5 L901.2,733.8 L902.3,733.1 L903.4,732.5 L904.4,731.9 L905.3,731.3 L906.2,730.8 L907.1,730.2 L908.1,729.7 L909.1,729.2 L910.0,728.7 L911.0,728.3 L911.9,727.9 L912.9,727.4 L913.8,727.0 L914.7,726.5 L915.6,726.0 L916.5,725.4 L917.3,724.9 L918.1,724.2 L918.9,723.6 L919.7,723.0 L920.5,722.3 L921.3,721.8 L922.2,721.2 L923.1,720.7 L924.0,720.2 L924.9,719.8 L925.9,719.3 L926.8,718.9 L927.8,718.5 L928.8,718.0 L929.7,717.5 L930.6,717.0 L931.6,716.4 L932.5,715.8 L933.4,715.2 L934.3,714.6 L935.3,714.0 L936.2,713.4 L937.2,712.8 L938.2,712.2 L939.2,711.6 L940.2,711.0 L941.2,710.4 L942.3,709.8 L943.4,709.3 L944.5,708.7 L945.6,708.1 L946.8,707.5 L948.0,707.0 L949.2,706.4 L950.4,705.9 L951.7,705.3 L953.0,704.8 L954.3,704.2 L955.6,703.6 L957.0,703.0 L958.3,702.3 L959.7,701.7 L961.2,701.0 L962.6,700.3 L964.0,699.6 L965.5,698.9 L967.0,698.2 L968.5,697.5 L970.0,696.8 L971.5,696.1 L973.1,695.4 L974.6,694.7 L976.2,694.0 L977.8,693.2 L979.4,692.5 L981.1,691.7 L982.7,690.9 L984.5,690.1 L986.2,689.2 L987.9,688.4 L989.7,687.6 L991.4,686.9 L993.1,686.2 L994.8,685.6 L996.4,685.1 L998.0,684.6 L999.7,684.1 L1001.3,683.7 L1002.9,683.2 L1004.6,682.7 L1006.3,682.1 L1008.1,681.5 L1009.8,680.8 L1011.6,680.1 L1013.5,679.3 L1015.3,678.6 L1017.2,677.8 L1019.0,677.1 L1020.8,676.3 L1022.6,675.6 L1024.4,674.8 L1026.2,674.1 L1027.9,673.3 L1029.7,672.5 L1031.5,671.8 L1033.3,671.0 L1035.2,670.2 L1037.1,669.4 L1039.0,668.6 L1041.0,667.8 L1043.0,667.0 L1044.9,666.2 L1046.9,665.3 L1048.9,664.5 L1050.8,663.7 L1052.7,662.9 L1054.6,662.1 L1056.5,661.3 L1058.3,660.5 L1060.2,659.7 L1062.0,658.9 L1063.9,658.1 L1065.8,657.2 L1067.7,656.3 L1069.6,655.4 L1071.5,654.4 L1073.4,653.4 L1075.3,652.5 L1077.2,651.5 L1079.1,650.4 L1081.0,649.4 L1082.9,648.4 L1084.8,647.3 L1086.8,646.3 L1088.7,645.2 L1090.6,644.1 L1092.6,643.0 L1094.5,641.8 L1096.5,640.6 L1098.5,639.3 L1100.5,638.0 L1102.5,636.7 L1104.5,635.3 L1106.5,633.9 L1108.6,632.4 L1110.6,631.0 L1112.6,629.5 L1114.6,628.0 L1116.6,626.5 L1118.6,625.0 L1120.7,623.4 L1122.7,621.9 L1124.7,620.3 L1126.7,618.6 L1128.8,616.9 L1130.9,615.2 L1132.9,613.4 L1135.0,611.6 L1137.1,609.8 L1139.2,607.9 L1141.3,606.0 L1143.5,604.0 L1145.6,601.9 L1147.9,599.6 L1150.4,597.0 L1152.9,594.3 L1155.5,591.5 L1157.9,588.9 L1160.1,586.5 L1161.9,584.5 L1163.3,583.0"/><path d="M804.5,766.0 L804.8,765.8 L805.2,765.7 L805.7,765.4 L806.3,765.2 L806.9,764.9 L807.6,764.6 L808.3,764.3 L809.0,764.0 L809.7,763.7 L810.6,763.4 L811.4,763.1 L812.3,762.7 L813.2,762.4 L814.1,762.1 L815.1,761.8 L816.0,761.5 L817.0,761.3 L817.9,761.0 L818.9,760.8 L819.9,760.6 L821.0,760.4 L822.0,760.3 L823.0,760.1 L824.0,760.0 L825.0,759.9 L826.0,759.8 L827.0,759.7 L828.0,759.6 L829.0,759.6 L830.0,759.5 L831.0,759.5 L832.0,759.5 L833.0,759.5 L834.0,759.6 L835.1,759.6 L836.1,759.7 L837.1,759.8 L838.1,759.9 L839.1,760.0 L840.0,760.0 L840.8,760.0 L841.6,760.1 L842.4,760.1 L843.1,760.1 L843.8,760.1 L844.5,760.1 L845.3,760.1 L846.0,760.0 L846.8,759.9 L847.5,759.8 L848.3,759.6 L849.0,759.4 L849.8,759.2 L850.5,759.0 L851.3,758.7 L852.0,758.5 L852.6,758.3 L853.2,758.0 L853.7,757.8 L854.2,757.5 L854.8,757.2 L855.5,756.9 L856.4,756.5 L857.5,756.0 L858.9,755.4 L860.6,754.8 L862.4,754.0 L864.4,753.2 L866.5,752.4 L868.5,751.6 L870.6,750.8 L872.5,750.0 L874.4,749.2 L876.3,748.4 L878.3,747.6 L880.2,746.8 L882.2,745.9 L884.0,745.1 L885.8,744.3 L887.5,743.5 L889.1,742.7 L890.6,741.9 L892.1,741.1 L893.5,740.3 L894.8,739.5 L896.1,738.8 L897.4,738.1 L898.7,737.5 L900.0,736.9 L901.2,736.4 L902.3,735.9 L903.5,735.5 L904.6,735.1 L905.7,734.7 L906.8,734.4 L908.0,734.0 L909.2,733.7 L910.4,733.3 L911.5,733.0 L912.7,732.7 L913.9,732.4 L915.1,732.2 L916.3,732.0 L917.5,731.8 L918.7,731.7 L919.9,731.5 L921.1,731.5 L922.3,731.4 L923.5,731.4 L924.6,731.4 L925.8,731.3 L927.0,731.3 L928.2,731.3 L929.3,731.2 L930.5,731.2 L931.6,731.2 L932.8,731.2 L933.9,731.1 L935.1,731.1 L936.2,731.1 L937.3,731.1 L938.4,731.1 L939.5,731.0 L940.6,731.0 L941.6,731.0 L942.7,731.0 L943.8,730.9 L945.0,730.9 L946.2,730.9 L947.4,730.9 L948.7,730.9 L950.0,730.9 L951.2,730.8 L952.5,730.8 L953.8,730.7 L955.0,730.6 L956.2,730.5 L957.4,730.3 L958.6,730.2 L959.7,730.0 L960.9,729.8 L962.1,729.5 L963.2,729.1 L964.4,728.7 L965.6,728.2 L966.8,727.6 L968.0,727.0 L969.2,726.3 L970.3,725.5 L971.5,724.7 L972.6,723.9 L973.7,723.1 L974.7,722.2 L975.7,721.3 L976.7,720.4 L977.7,719.4 L978.6,718.4 L979.5,717.5 L980.4,716.5 L981.2,715.6 L982.0,714.7 L982.8,713.9 L983.5,713.0 L984.2,712.2 L984.9,711.4 L985.5,710.6 L986.2,709.8 L986.8,709.0 L987.4,708.2 L987.9,707.5 L988.4,706.8 L988.9,706.1 L989.4,705.4 L989.9,704.7 L990.4,703.9 L991.0,703.0 L991.6,702.0 L992.4,700.9 L993.1,699.6 L993.9,698.4 L994.6,697.2 L995.2,696.1 L995.8,695.2 L996.2,694.5"/></g>
</g>
<path d="M144.6,47.7 V330.3 H544.1" fill="none" stroke="#525252" stroke-width="2"/>
<path d="M139.1,47.7 H144.6" stroke="#525252" stroke-width="2"/>
<path d="M139.1,189.0 H144.6" stroke="#525252" stroke-width="2"/>
<path d="M139.1,330.3 H144.6" stroke="#525252" stroke-width="2"/>
<path d="M144.6,330.3 V335.8" stroke="#525252" stroke-width="2"/>
<path d="M344.4,330.3 V335.8" stroke="#525252" stroke-width="2"/>
<path d="M544.1,330.3 V335.8" stroke="#525252" stroke-width="2"/>
<text transform="translate(135.40,60.00) scale(1,1.025)" font-size="41.8" text-anchor="end" font-weight="normal" fill="#000" >500</text>
<text transform="translate(135.40,201.30) scale(1,1.025)" font-size="41.8" text-anchor="end" font-weight="normal" fill="#000" >250</text>
<text transform="translate(135.40,342.60) scale(1,1.025)" font-size="41.8" text-anchor="end" font-weight="normal" fill="#000" >0</text>
<text transform="translate(144.60,371.70) scale(1,1.025)" font-size="41.8" text-anchor="middle" font-weight="normal" fill="#000" >0</text>
<text transform="translate(344.40,371.70) scale(1,1.025)" font-size="41.8" text-anchor="middle" font-weight="normal" fill="#000" >250</text>
<text transform="translate(544.10,371.70) scale(1,1.025)" font-size="41.8" text-anchor="middle" font-weight="normal" fill="#000" >500</text>
<path d="M792.9,47.7 V330.3 H1192.4" fill="none" stroke="#525252" stroke-width="2"/>
<path d="M787.4,47.7 H792.9" stroke="#525252" stroke-width="2"/>
<path d="M787.4,189.0 H792.9" stroke="#525252" stroke-width="2"/>
<path d="M787.4,330.3 H792.9" stroke="#525252" stroke-width="2"/>
<path d="M792.9,330.3 V335.8" stroke="#525252" stroke-width="2"/>
<path d="M992.7,330.3 V335.8" stroke="#525252" stroke-width="2"/>
<path d="M1192.4,330.3 V335.8" stroke="#525252" stroke-width="2"/>
<text transform="translate(783.70,60.00) scale(1,1.025)" font-size="41.8" text-anchor="end" font-weight="normal" fill="#000" >500</text>
<text transform="translate(783.70,201.30) scale(1,1.025)" font-size="41.8" text-anchor="end" font-weight="normal" fill="#000" >250</text>
<text transform="translate(783.70,342.60) scale(1,1.025)" font-size="41.8" text-anchor="end" font-weight="normal" fill="#000" >0</text>
<text transform="translate(792.90,371.70) scale(1,1.025)" font-size="41.8" text-anchor="middle" font-weight="normal" fill="#000" >0</text>
<text transform="translate(992.70,371.70) scale(1,1.025)" font-size="41.8" text-anchor="middle" font-weight="normal" fill="#000" >250</text>
<text transform="translate(1192.40,371.70) scale(1,1.025)" font-size="41.8" text-anchor="middle" font-weight="normal" fill="#000" >500</text>
<path d="M144.6,484.1 V766.7 H544.1" fill="none" stroke="#525252" stroke-width="2"/>
<path d="M139.1,484.1 H144.6" stroke="#525252" stroke-width="2"/>
<path d="M139.1,625.4000000000001 H144.6" stroke="#525252" stroke-width="2"/>
<path d="M139.1,766.7 H144.6" stroke="#525252" stroke-width="2"/>
<path d="M144.6,766.7 V772.2" stroke="#525252" stroke-width="2"/>
<path d="M344.4,766.7 V772.2" stroke="#525252" stroke-width="2"/>
<path d="M544.1,766.7 V772.2" stroke="#525252" stroke-width="2"/>
<text transform="translate(135.40,496.40) scale(1,1.025)" font-size="41.8" text-anchor="end" font-weight="normal" fill="#000" >500</text>
<text transform="translate(135.40,637.70) scale(1,1.025)" font-size="41.8" text-anchor="end" font-weight="normal" fill="#000" >250</text>
<text transform="translate(135.40,779.00) scale(1,1.025)" font-size="41.8" text-anchor="end" font-weight="normal" fill="#000" >0</text>
<text transform="translate(144.60,808.00) scale(1,1.025)" font-size="41.8" text-anchor="middle" font-weight="normal" fill="#000" >0</text>
<text transform="translate(344.40,808.00) scale(1,1.025)" font-size="41.8" text-anchor="middle" font-weight="normal" fill="#000" >250</text>
<text transform="translate(544.10,808.00) scale(1,1.025)" font-size="41.8" text-anchor="middle" font-weight="normal" fill="#000" >500</text>
<path d="M792.9,484.1 V766.7 H1192.4" fill="none" stroke="#525252" stroke-width="2"/>
<path d="M787.4,484.1 H792.9" stroke="#525252" stroke-width="2"/>
<path d="M787.4,625.4000000000001 H792.9" stroke="#525252" stroke-width="2"/>
<path d="M787.4,766.7 H792.9" stroke="#525252" stroke-width="2"/>
<path d="M792.9,766.7 V772.2" stroke="#525252" stroke-width="2"/>
<path d="M992.7,766.7 V772.2" stroke="#525252" stroke-width="2"/>
<path d="M1192.4,766.7 V772.2" stroke="#525252" stroke-width="2"/>
<text transform="translate(783.70,496.40) scale(1,1.025)" font-size="41.8" text-anchor="end" font-weight="normal" fill="#000" >500</text>
<text transform="translate(783.70,637.70) scale(1,1.025)" font-size="41.8" text-anchor="end" font-weight="normal" fill="#000" >250</text>
<text transform="translate(783.70,779.00) scale(1,1.025)" font-size="41.8" text-anchor="end" font-weight="normal" fill="#000" >0</text>
<text transform="translate(792.90,808.00) scale(1,1.025)" font-size="41.8" text-anchor="middle" font-weight="normal" fill="#000" >0</text>
<text transform="translate(992.70,808.00) scale(1,1.025)" font-size="41.8" text-anchor="middle" font-weight="normal" fill="#000" >250</text>
<text transform="translate(1192.40,808.00) scale(1,1.025)" font-size="41.8" text-anchor="middle" font-weight="normal" fill="#000" >500</text>
<text transform="translate(254.17,421.90) scale(1,1.025)" font-size="41.8" fill="#000" xml:space="preserve">Re(Z)  [</text>
<text transform="translate(394.76,421.90) scale(1.13,1)" style="font-family:'Liberation Serif',serif" font-size="39.58" fill="#000">&#937;</text>
<text transform="translate(426.47,421.90) scale(1,1.025)" font-size="41.8" fill="#000">]</text>
<text transform="translate(911.07,421.90) scale(1,1.025)" font-size="41.8" fill="#000" xml:space="preserve">Re(Z)  [</text>
<text transform="translate(1051.66,421.90) scale(1.13,1)" style="font-family:'Liberation Serif',serif" font-size="39.58" fill="#000">&#937;</text>
<text transform="translate(1083.37,421.90) scale(1,1.025)" font-size="41.8" fill="#000">]</text>
<text transform="translate(254.17,857.90) scale(1,1.025)" font-size="41.8" fill="#000" xml:space="preserve">Re(Z)  [</text>
<text transform="translate(394.76,857.90) scale(1.13,1)" style="font-family:'Liberation Serif',serif" font-size="39.58" fill="#000">&#937;</text>
<text transform="translate(426.47,857.90) scale(1,1.025)" font-size="41.8" fill="#000">]</text>
<text transform="translate(911.07,857.90) scale(1,1.025)" font-size="41.8" fill="#000" xml:space="preserve">Re(Z)  [</text>
<text transform="translate(1051.66,857.90) scale(1.13,1)" style="font-family:'Liberation Serif',serif" font-size="39.58" fill="#000">&#937;</text>
<text transform="translate(1083.37,857.90) scale(1,1.025)" font-size="41.8" fill="#000">]</text>
<g transform="translate(29.90,273.40) rotate(-90)">
<text transform="translate(-1.84,0) scale(1,1.025)" font-size="41.8" fill="#000" xml:space="preserve">-Im(Z) [</text>
<text transform="translate(134.96,0) scale(1.08,1)" style="font-family:'Liberation Serif',serif" font-size="39.58" fill="#000">&#937;</text>
<text transform="translate(166.03,0) scale(1,1.025)" font-size="41.8" fill="#000">]</text>
</g>
<g transform="translate(682.10,273.40) rotate(-90)">
<text transform="translate(-1.84,0) scale(1,1.025)" font-size="41.8" fill="#000" xml:space="preserve">-Im(Z) [</text>
<text transform="translate(134.96,0) scale(1.08,1)" style="font-family:'Liberation Serif',serif" font-size="39.58" fill="#000">&#937;</text>
<text transform="translate(166.03,0) scale(1,1.025)" font-size="41.8" fill="#000">]</text>
</g>
<g transform="translate(29.90,709.90) rotate(-90)">
<text transform="translate(-1.84,0) scale(1,1.025)" font-size="41.8" fill="#000" xml:space="preserve">-Im(Z) [</text>
<text transform="translate(134.96,0) scale(1.08,1)" style="font-family:'Liberation Serif',serif" font-size="39.58" fill="#000">&#937;</text>
<text transform="translate(166.03,0) scale(1,1.025)" font-size="41.8" fill="#000">]</text>
</g>
<g transform="translate(682.10,709.90) rotate(-90)">
<text transform="translate(-1.84,0) scale(1,1.025)" font-size="41.8" fill="#000" xml:space="preserve">-Im(Z) [</text>
<text transform="translate(134.96,0) scale(1.08,1)" style="font-family:'Liberation Serif',serif" font-size="39.58" fill="#000">&#937;</text>
<text transform="translate(166.03,0) scale(1,1.025)" font-size="41.8" fill="#000">]</text>
</g>
<text transform="translate(40.20,389.80) scale(1,1.0)" font-size="55" text-anchor="start" font-weight="bold" fill="#000" >a)</text>
<text transform="translate(666.60,390.30) scale(1,1.0)" font-size="55" text-anchor="start" font-weight="bold" fill="#000" >b)</text>
<text transform="translate(42.20,821.30) scale(1,1.0)" font-size="55" text-anchor="start" font-weight="bold" fill="#000" >c)</text>
<text transform="translate(669.70,821.80) scale(1,1.0)" font-size="55" text-anchor="start" font-weight="bold" fill="#000" >d)</text>
<text transform="translate(524.40,31.90) scale(1,1.025)" font-size="41.8" fill="#000" > 0th</text><path transform="translate(524.40,31.90) scale(41.8,42.84499999999999)" d="M0.373,0 L0.285,0 L0.285,-0.546 C0.264,-0.527 0.236,-0.506 0.201,-0.486 C0.167,-0.466 0.134,-0.450 0.104,-0.433 L0.104,-0.516 C0.156,-0.540 0.202,-0.570 0.242,-0.604 C0.282,-0.638 0.309,-0.670 0.325,-0.698 L0.373,-0.698 Z" fill="#000" vector-effect="non-scaling-stroke" />
<text transform="translate(542.50,136.60) scale(1,1.025)" font-size="41.8" text-anchor="start" font-weight="normal" fill="#000" >5th</text>
<text transform="translate(410.60,273.40) scale(1,1.025)" font-size="41.8" fill="#000" > st</text><path transform="translate(410.60,273.40) scale(41.8,42.84499999999999)" d="M0.373,0 L0.285,0 L0.285,-0.546 C0.264,-0.527 0.236,-0.506 0.201,-0.486 C0.167,-0.466 0.134,-0.450 0.104,-0.433 L0.104,-0.516 C0.156,-0.540 0.202,-0.570 0.242,-0.604 C0.282,-0.638 0.309,-0.670 0.325,-0.698 L0.373,-0.698 Z" fill="#000" vector-effect="non-scaling-stroke" />
<text transform="translate(874.10,247.20) scale(1,1.025)" font-size="41.8" fill="#000" > 0th</text><path transform="translate(874.10,247.20) scale(41.8,42.84499999999999)" d="M0.373,0 L0.285,0 L0.285,-0.546 C0.264,-0.527 0.236,-0.506 0.201,-0.486 C0.167,-0.466 0.134,-0.450 0.104,-0.433 L0.104,-0.516 C0.156,-0.540 0.202,-0.570 0.242,-0.604 C0.282,-0.638 0.309,-0.670 0.325,-0.698 L0.373,-0.698 Z" fill="#000" vector-effect="non-scaling-stroke" />
<text transform="translate(1000.10,236.30) scale(1,1.025)" font-size="41.8" text-anchor="start" font-weight="normal" fill="#000" >5th</text>
<text transform="translate(1110.50,290.50) scale(1,1.025)" font-size="41.8" fill="#000" > st</text><path transform="translate(1110.50,290.50) scale(41.8,42.84499999999999)" d="M0.373,0 L0.285,0 L0.285,-0.546 C0.264,-0.527 0.236,-0.506 0.201,-0.486 C0.167,-0.466 0.134,-0.450 0.104,-0.433 L0.104,-0.516 C0.156,-0.540 0.202,-0.570 0.242,-0.604 C0.282,-0.638 0.309,-0.670 0.325,-0.698 L0.373,-0.698 Z" fill="#000" vector-effect="non-scaling-stroke" />
<text transform="translate(527.10,549.00) scale(1,1.025)" font-size="41.8" fill="#000" > 0th</text><path transform="translate(527.10,549.00) scale(41.8,42.84499999999999)" d="M0.373,0 L0.285,0 L0.285,-0.546 C0.264,-0.527 0.236,-0.506 0.201,-0.486 C0.167,-0.466 0.134,-0.450 0.104,-0.433 L0.104,-0.516 C0.156,-0.540 0.202,-0.570 0.242,-0.604 C0.282,-0.638 0.309,-0.670 0.325,-0.698 L0.373,-0.698 Z" fill="#000" vector-effect="non-scaling-stroke" />
<text transform="translate(527.20,633.00) scale(1,1.025)" font-size="41.8" text-anchor="start" font-weight="normal" fill="#000" >5th</text>
<text transform="translate(475.60,718.00) scale(1,1.025)" font-size="41.8" fill="#000" > st</text><path transform="translate(475.60,718.00) scale(41.8,42.84499999999999)" d="M0.373,0 L0.285,0 L0.285,-0.546 C0.264,-0.527 0.236,-0.506 0.201,-0.486 C0.167,-0.466 0.134,-0.450 0.104,-0.433 L0.104,-0.516 C0.156,-0.540 0.202,-0.570 0.242,-0.604 C0.282,-0.638 0.309,-0.670 0.325,-0.698 L0.373,-0.698 Z" fill="#000" vector-effect="non-scaling-stroke" />
<text transform="translate(1198.80,489.70) scale(1,1.025)" font-size="41.8" fill="#000" > 0th</text><path transform="translate(1198.80,489.70) scale(41.8,42.84499999999999)" d="M0.373,0 L0.285,0 L0.285,-0.546 C0.264,-0.527 0.236,-0.506 0.201,-0.486 C0.167,-0.466 0.134,-0.450 0.104,-0.433 L0.104,-0.516 C0.156,-0.540 0.202,-0.570 0.242,-0.604 C0.282,-0.638 0.309,-0.670 0.325,-0.698 L0.373,-0.698 Z" fill="#000" vector-effect="non-scaling-stroke" />
<text transform="translate(1180.50,589.20) scale(1,1.025)" font-size="41.8" text-anchor="start" font-weight="normal" fill="#000" >5th</text>
<text transform="translate(1011.00,732.10) scale(1,1.025)" font-size="41.8" fill="#000" > st</text><path transform="translate(1011.00,732.10) scale(41.8,42.84499999999999)" d="M0.373,0 L0.285,0 L0.285,-0.546 C0.264,-0.527 0.236,-0.506 0.201,-0.486 C0.167,-0.466 0.134,-0.450 0.104,-0.433 L0.104,-0.516 C0.156,-0.540 0.202,-0.570 0.242,-0.604 C0.282,-0.638 0.309,-0.670 0.325,-0.698 L0.373,-0.698 Z" fill="#000" vector-effect="non-scaling-stroke" />
<rect x="153.9" y="6.3" width="220.6" height="156.39999999999998" fill="#fff" stroke="#9c9c9c" stroke-width="2.6"/>
<path d="M235.4,33.8 V103.0 H335.4" fill="none" stroke="#b2b2b2" stroke-width="2"/>
<g stroke="#141414" stroke-width="0.55">
<text transform="translate(194.07,38.00) scale(1,1.0)" font-size="17.5" fill="#141414" > 500</text><path transform="translate(194.07,38.00) scale(17.5,17.5)" d="M0.373,0 L0.285,0 L0.285,-0.546 C0.264,-0.527 0.236,-0.506 0.201,-0.486 C0.167,-0.466 0.134,-0.450 0.104,-0.433 L0.104,-0.516 C0.156,-0.540 0.202,-0.570 0.242,-0.604 C0.282,-0.638 0.309,-0.670 0.325,-0.698 L0.373,-0.698 Z" fill="#141414" vector-effect="non-scaling-stroke" />
<text transform="translate(233.00,105.80) scale(1,1.0)" font-size="17.5" text-anchor="end" font-weight="normal" fill="#141414" >0</text>
<text transform="translate(235.40,119.00) scale(1,1.0)" font-size="17.5" text-anchor="middle" font-weight="normal" fill="#141414" >0</text>
<text transform="translate(315.93,119.00) scale(1,1.0)" font-size="17.5" fill="#141414" > 500</text><path transform="translate(315.93,119.00) scale(17.5,17.5)" d="M0.373,0 L0.285,0 L0.285,-0.546 C0.264,-0.527 0.236,-0.506 0.201,-0.486 C0.167,-0.466 0.134,-0.450 0.104,-0.433 L0.104,-0.516 C0.156,-0.540 0.202,-0.570 0.242,-0.604 C0.282,-0.638 0.309,-0.670 0.325,-0.698 L0.373,-0.698 Z" fill="#141414" vector-effect="non-scaling-stroke" />
<text transform="translate(244.80,149.80) scale(1,1.025)" font-size="18.3" fill="#141414" xml:space="preserve">Re(Z)  [</text>
<text transform="translate(306.35,149.80) scale(1.13,1)" style="font-family:'Liberation Serif',serif" font-size="17.33" fill="#141414">&#937;</text>
<text transform="translate(320.23,149.80) scale(1,1.025)" font-size="18.3" fill="#141414">]</text>
<g transform="translate(179.50,121.30) rotate(-90)">
<text transform="translate(-0.81,0) scale(1,1.025)" font-size="18.3" fill="#141414" xml:space="preserve">-Im(Z) [</text>
<text transform="translate(59.09,0) scale(1.08,1)" style="font-family:'Liberation Serif',serif" font-size="17.33" fill="#141414">&#937;</text>
<text transform="translate(72.69,0) scale(1,1.025)" font-size="18.3" fill="#141414">]</text>
</g>
</g>
<g fill="none" stroke="#1a10a6" stroke-width="3.1" stroke-linecap="round" stroke-linejoin="round"><path d="M236.3,102.9 L236.8,102.6 L237.6,102.3 L238.4,101.9 L239.3,101.5 L240.4,101.0 L241.4,100.5 L242.5,99.9 L243.5,99.3 L244.5,98.7 L245.6,98.0 L246.7,97.2 L247.9,96.4 L249.1,95.6 L250.2,94.8 L251.4,93.9 L252.5,93.0 L253.6,92.1 L254.7,91.1 L255.7,90.1 L256.8,89.1 L257.9,88.1 L259.0,87.0 L260.2,86.0 L261.4,84.9 L262.7,83.8 L264.1,82.7 L265.5,81.5 L267.0,80.3 L268.5,79.2 L270.0,78.0 L271.6,76.9 L273.1,75.9 L274.6,74.9 L276.1,74.0 L277.6,73.1 L279.1,72.3 L280.7,71.5 L282.3,70.6 L283.9,69.7 L285.7,68.8 L287.5,67.8 L289.5,66.8 L291.4,65.8 L293.5,64.7 L295.5,63.6 L297.6,62.6 L299.8,61.6 L301.9,60.7 L304.1,59.8 L306.3,59.0 L308.6,58.1 L310.9,57.3 L313.2,56.6 L315.5,55.8 L317.7,55.1 L319.8,54.4 L321.9,53.7 L324.2,53.0 L326.4,52.4 L328.6,51.8 L330.6,51.2 L332.4,50.7 L333.9,50.2 L335.1,49.9"/><path d="M240.0,101.5 L240.5,101.3 L241.0,101.0 L241.7,100.6 L242.5,100.2 L243.4,99.8 L244.3,99.3 L245.1,98.9 L246.0,98.5 L246.8,98.1 L247.6,97.8 L248.4,97.4 L249.3,97.1 L250.2,96.7 L251.2,96.3 L252.2,95.8 L253.4,95.2 L254.7,94.5 L256.1,93.8 L257.6,92.9 L259.1,92.0 L260.7,91.1 L262.4,90.2 L264.1,89.3 L265.9,88.5 L267.8,87.7 L270.0,86.7 L272.3,85.8 L274.6,84.9 L276.8,84.1 L278.8,83.3 L280.5,82.7 L281.7,82.2"/><path d="M237.0,102.6 L237.6,102.5 L238.5,102.3 L239.5,102.0 L240.6,101.8 L241.8,101.5 L243.0,101.3 L244.0,101.0 L245.0,100.8 L245.9,100.6 L246.7,100.4 L247.4,100.2 L248.2,100.0 L248.9,99.8 L249.6,99.6 L250.3,99.5 L251.0,99.3 L251.7,99.1 L252.4,99.0 L253.2,98.8 L253.9,98.7 L254.5,98.5 L255.1,98.4 L255.6,98.3 L256.0,98.2" stroke-width="4.6"/></g>
<rect x="801.0" y="449.3" width="220.60000000000002" height="155.49999999999994" fill="#fff" stroke="#9c9c9c" stroke-width="2.6"/>
<path d="M876.5,478.9 V549.1 H976.0" fill="none" stroke="#b2b2b2" stroke-width="2"/>
<g stroke="#141414" stroke-width="0.55">
<text transform="translate(835.37,483.80) scale(1,1.0)" font-size="17.5" fill="#141414" > 500</text><path transform="translate(835.37,483.80) scale(17.5,17.5)" d="M0.373,0 L0.285,0 L0.285,-0.546 C0.264,-0.527 0.236,-0.506 0.201,-0.486 C0.167,-0.466 0.134,-0.450 0.104,-0.433 L0.104,-0.516 C0.156,-0.540 0.202,-0.570 0.242,-0.604 C0.282,-0.638 0.309,-0.670 0.325,-0.698 L0.373,-0.698 Z" fill="#141414" vector-effect="non-scaling-stroke" />
<text transform="translate(874.30,553.60) scale(1,1.0)" font-size="17.5" text-anchor="end" font-weight="normal" fill="#141414" >0</text>
<text transform="translate(876.50,565.00) scale(1,1.0)" font-size="17.5" text-anchor="middle" font-weight="normal" fill="#141414" >0</text>
<text transform="translate(956.53,565.00) scale(1,1.0)" font-size="17.5" fill="#141414" > 500</text><path transform="translate(956.53,565.00) scale(17.5,17.5)" d="M0.373,0 L0.285,0 L0.285,-0.546 C0.264,-0.527 0.236,-0.506 0.201,-0.486 C0.167,-0.466 0.134,-0.450 0.104,-0.433 L0.104,-0.516 C0.156,-0.540 0.202,-0.570 0.242,-0.604 C0.282,-0.638 0.309,-0.670 0.325,-0.698 L0.373,-0.698 Z" fill="#141414" vector-effect="non-scaling-stroke" />
<text transform="translate(887.00,594.80) scale(1,1.025)" font-size="18.3" fill="#141414" xml:space="preserve">Re(Z)  [</text>
<text transform="translate(948.55,594.80) scale(1.13,1)" style="font-family:'Liberation Serif',serif" font-size="17.33" fill="#141414">&#937;</text>
<text transform="translate(962.43,594.80) scale(1,1.025)" font-size="18.3" fill="#141414">]</text>
<g transform="translate(825.00,567.20) rotate(-90)">
<text transform="translate(-0.81,0) scale(1,1.025)" font-size="18.3" fill="#141414" xml:space="preserve">-Im(Z) [</text>
<text transform="translate(59.09,0) scale(1.08,1)" style="font-family:'Liberation Serif',serif" font-size="17.33" fill="#141414">&#937;</text>
<text transform="translate(72.69,0) scale(1,1.025)" font-size="18.3" fill="#141414">]</text>
</g>
</g>
<g fill="none" stroke="#1a10a6" stroke-width="3.1" stroke-linecap="round" stroke-linejoin="round"><path d="M877.1,548.9 L877.7,548.7 L878.5,548.5 L879.4,548.2 L880.5,547.8 L881.6,547.5 L882.8,547.1 L883.9,546.7 L885.0,546.3 L886.1,545.9 L887.2,545.5 L888.4,545.1 L889.5,544.6 L890.7,544.1 L891.8,543.6 L892.9,543.1 L894.0,542.5 L895.0,541.9 L896.0,541.2 L896.9,540.5 L897.8,539.8 L898.8,539.0 L899.7,538.2 L900.6,537.4 L901.5,536.5 L902.4,535.6 L903.3,534.7 L904.2,533.7 L905.1,532.7 L906.0,531.6 L907.0,530.6 L908.0,529.5 L909.0,528.3 L910.1,527.1 L911.3,525.9 L912.5,524.6 L913.8,523.2 L915.0,521.9 L916.3,520.5 L917.6,519.2 L918.8,517.8 L920.0,516.4 L921.3,514.9 L922.6,513.4 L923.9,511.9 L925.1,510.4 L926.3,509.0 L927.5,507.7 L928.5,506.5 L929.5,505.5 L930.4,504.5 L931.3,503.6 L932.1,502.8 L932.9,502.1 L933.5,501.5 L934.1,500.9 L934.5,500.5"/><path d="M879.0,548.3 L879.7,548.1 L880.7,547.8 L881.8,547.4 L883.1,547.1 L884.4,546.7 L885.8,546.2 L887.0,545.9 L888.0,545.5 L888.9,545.2 L889.7,544.9 L890.4,544.6 L891.1,544.3 L891.8,544.0 L892.5,543.7 L893.2,543.4 L894.0,543.0 L894.8,542.6 L895.7,542.1 L896.5,541.6 L897.4,541.1 L898.3,540.6 L899.2,540.0 L900.1,539.5 L901.0,539.0 L901.9,538.5 L903.0,537.9 L904.0,537.3 L905.1,536.8 L906.1,536.2 L907.0,535.7 L907.7,535.3 L908.3,535.0" stroke-width="3.6"/><path d="M878.0,549.0 L878.6,548.9 L879.5,548.7 L880.5,548.6 L881.6,548.4 L882.7,548.2 L883.9,547.9 L885.0,547.7 L886.0,547.5 L887.0,547.3 L888.0,547.0 L889.0,546.7 L890.0,546.4 L890.9,546.1 L891.8,545.9 L892.5,545.7 L893.0,545.5" stroke-width="3.6"/></g>
</g>
</svg></body></html>
